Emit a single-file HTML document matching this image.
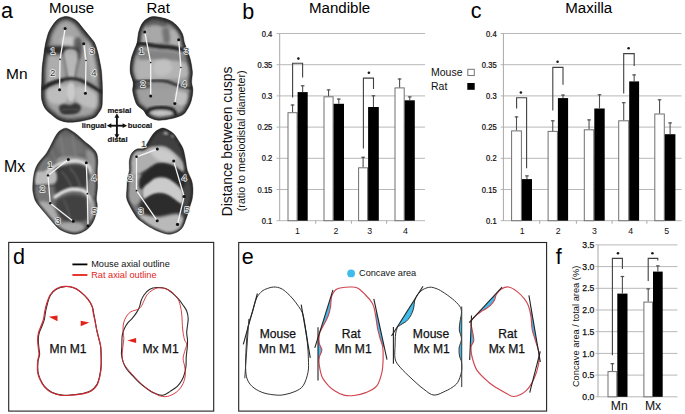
<!DOCTYPE html>
<html><head><meta charset="utf-8"><style>html,body{margin:0;padding:0;background:#fff;}svg{display:block;}</style></head><body>
<svg width="685" height="414" viewBox="0 0 685 414" font-family='"Liberation Sans", sans-serif'>
<defs><filter id="b1" x="-20%" y="-20%" width="140%" height="140%"><feGaussianBlur stdDeviation="1"/></filter><filter id="b2" x="-50%" y="-50%" width="200%" height="200%"><feGaussianBlur stdDeviation="1.8"/></filter><filter id="b3" x="-50%" y="-50%" width="200%" height="200%"><feGaussianBlur stdDeviation="3"/></filter></defs>
<rect width="685" height="414" fill="#fff"/>
<text x="1.0" y="18.4" font-size="21.5" text-anchor="start" fill="#000" font-weight="normal" >a</text>
<text x="71.6" y="13.2" font-size="15" text-anchor="middle" fill="#000" font-weight="normal" >Mouse</text>
<text x="158.2" y="12.9" font-size="15" text-anchor="middle" fill="#000" font-weight="normal" >Rat</text>
<text x="6.0" y="79.4" font-size="15.5" text-anchor="start" fill="#000" font-weight="normal" >Mn</text>
<text x="4.0" y="172.0" font-size="15.8" text-anchor="start" fill="#000" font-weight="normal" >Mx</text>
<clipPath id="ca"><path d="M66.5,16.4 C68.6,16.4 70.7,17.3 72.5,18.2 C74.3,19.1 75.4,19.6 77.4,21.6 C79.4,23.6 82.3,27.5 84.6,30.3 C86.9,33.1 89.5,36.1 91.2,38.3 C92.9,40.5 93.7,41.0 94.8,43.3 C95.9,45.6 96.8,48.9 97.7,52.0 C98.6,55.1 99.3,59.2 99.9,62.2 C100.5,65.2 100.9,66.7 101.3,70.0 C101.7,73.3 102.0,77.7 102.2,82.0 C102.4,86.3 102.5,91.8 102.4,96.0 C102.3,100.2 102.5,104.2 101.8,107.0 C101.1,109.8 99.8,111.2 98.5,113.0 C97.2,114.8 96.8,116.5 94.0,117.8 C91.2,119.1 86.3,120.2 82.0,121.0 C77.7,121.8 72.0,122.5 68.0,122.3 C64.0,122.0 60.8,120.8 58.0,119.5 C55.2,118.2 53.5,116.3 51.4,114.6 C49.3,112.8 47.1,111.3 45.5,109.0 C43.9,106.7 42.7,103.8 42.0,101.0 C41.3,98.2 41.4,95.5 41.4,92.0 C41.4,88.5 41.7,84.0 41.8,80.0 C41.9,76.0 41.8,71.8 42.1,68.0 C42.4,64.2 43.0,60.8 43.5,57.0 C44.0,53.2 44.5,48.8 45.2,45.0 C46.0,41.2 47.0,37.0 48.0,34.0 C49.0,31.0 50.2,29.1 51.5,27.0 C52.8,24.9 54.1,23.0 55.5,21.5 C56.9,20.0 58.2,18.9 60.0,18.0 C61.8,17.1 64.4,16.4 66.5,16.4Z"/></clipPath>
<linearGradient id="ga" x1="0" y1="0" x2="0" y2="1"><stop offset="0" stop-color="#979797"/><stop offset="1" stop-color="#a2a2a2"/></linearGradient>
<g clip-path="url(#ca)">
<path d="M66.5,16.4 C68.6,16.4 70.7,17.3 72.5,18.2 C74.3,19.1 75.4,19.6 77.4,21.6 C79.4,23.6 82.3,27.5 84.6,30.3 C86.9,33.1 89.5,36.1 91.2,38.3 C92.9,40.5 93.7,41.0 94.8,43.3 C95.9,45.6 96.8,48.9 97.7,52.0 C98.6,55.1 99.3,59.2 99.9,62.2 C100.5,65.2 100.9,66.7 101.3,70.0 C101.7,73.3 102.0,77.7 102.2,82.0 C102.4,86.3 102.5,91.8 102.4,96.0 C102.3,100.2 102.5,104.2 101.8,107.0 C101.1,109.8 99.8,111.2 98.5,113.0 C97.2,114.8 96.8,116.5 94.0,117.8 C91.2,119.1 86.3,120.2 82.0,121.0 C77.7,121.8 72.0,122.5 68.0,122.3 C64.0,122.0 60.8,120.8 58.0,119.5 C55.2,118.2 53.5,116.3 51.4,114.6 C49.3,112.8 47.1,111.3 45.5,109.0 C43.9,106.7 42.7,103.8 42.0,101.0 C41.3,98.2 41.4,95.5 41.4,92.0 C41.4,88.5 41.7,84.0 41.8,80.0 C41.9,76.0 41.8,71.8 42.1,68.0 C42.4,64.2 43.0,60.8 43.5,57.0 C44.0,53.2 44.5,48.8 45.2,45.0 C46.0,41.2 47.0,37.0 48.0,34.0 C49.0,31.0 50.2,29.1 51.5,27.0 C52.8,24.9 54.1,23.0 55.5,21.5 C56.9,20.0 58.2,18.9 60.0,18.0 C61.8,17.1 64.4,16.4 66.5,16.4Z" fill="url(#ga)"/>
<path d="M55.0,24.0 C57.7,21.3 62.5,20.0 66.0,20.0 C69.5,20.0 73.7,21.7 76.0,24.0 C78.3,26.3 79.7,30.7 80.0,34.0 C80.3,37.3 80.0,42.0 78.0,44.0 C76.0,46.0 71.7,46.0 68.0,46.0 C64.3,46.0 59.0,45.7 56.0,44.0 C53.0,42.3 50.2,39.3 50.0,36.0 C49.8,32.7 52.3,26.7 55.0,24.0Z" fill="#a6a6a6" fill-opacity="0.9" filter="url(#b2)"/>
<path d="M62.0,38.0 C63.3,36.3 69.3,36.3 72.0,37.0 C74.7,37.7 77.7,40.3 78.0,42.0 C78.3,43.7 76.3,46.2 74.0,47.0 C71.7,47.8 66.0,48.5 64.0,47.0 C62.0,45.5 60.7,39.7 62.0,38.0Z" fill="#cacaca" fill-opacity="0.9" filter="url(#b2)"/>
<path d="M45.0,47.0 C47.2,45.7 55.5,46.0 60.0,46.0 C64.5,46.0 68.8,46.3 72.0,47.0 C75.2,47.7 78.3,48.8 79.0,50.0 C79.7,51.2 78.8,53.3 76.0,54.0 C73.2,54.7 66.8,54.0 62.0,54.0 C57.2,54.0 49.8,55.2 47.0,54.0 C44.2,52.8 42.8,48.3 45.0,47.0Z" fill="#262626" fill-opacity="0.9" filter="url(#b2)"/>
<path d="M74.0,40.0 C74.8,37.0 78.7,36.7 80.0,38.0 C81.3,39.3 82.0,44.7 82.0,48.0 C82.0,51.3 81.2,56.7 80.0,58.0 C78.8,59.3 76.0,59.0 75.0,56.0 C74.0,53.0 73.2,43.0 74.0,40.0Z" fill="#3a3a3a" fill-opacity="0.7" filter="url(#b2)"/>
<path d="M84.5,46.0 C84.6,47.0 84.8,50.0 85.0,52.0 C85.2,54.0 85.4,57.0 85.5,58.0" fill="none" stroke="#e0e0e0" stroke-opacity="0.8" stroke-width="2.5" stroke-linecap="round" filter="url(#b1)"/>
<path d="M87.0,38.0 C87.8,34.8 91.3,40.0 93.0,43.0 C94.7,46.0 95.8,51.2 97.0,56.0 C98.2,60.8 100.7,68.0 100.0,72.0 C99.3,76.0 95.0,81.7 93.0,80.0 C91.0,78.3 89.0,69.0 88.0,62.0 C87.0,55.0 86.2,41.2 87.0,38.0Z" fill="#b6b6b6" fill-opacity="0.85" filter="url(#b2)"/>
<path d="M64.0,52.0 C65.5,47.8 75.3,47.8 77.0,52.0 C78.7,56.2 75.5,72.8 74.0,77.0 C72.5,81.2 69.7,81.2 68.0,77.0 C66.3,72.8 62.5,56.2 64.0,52.0Z" fill="#bababa" fill-opacity="0.9" filter="url(#b1)"/>
<path d="M63.0,54.0 C63.4,56.0 64.8,62.0 65.5,66.0 C66.2,70.0 67.2,76.0 67.5,78.0" fill="none" stroke="#404040" stroke-opacity="0.55" stroke-width="1.6" stroke-linecap="round" filter="url(#b1)"/>
<path d="M80.0,56.0 C79.5,57.8 77.8,63.3 77.0,67.0 C76.2,70.7 75.3,76.2 75.0,78.0" fill="none" stroke="#404040" stroke-opacity="0.55" stroke-width="1.6" stroke-linecap="round" filter="url(#b1)"/>
<path d="M45.0,58.0 C47.3,55.8 55.3,55.7 58.0,57.0 C60.7,58.3 60.7,62.5 61.0,66.0 C61.3,69.5 62.2,75.3 60.0,78.0 C57.8,80.7 50.7,83.3 48.0,82.0 C45.3,80.7 44.5,74.0 44.0,70.0 C43.5,66.0 42.7,60.2 45.0,58.0Z" fill="#b2b2b2" fill-opacity="0.8" filter="url(#b2)"/>
<path d="M42.5,89.0 C43.8,88.2 47.1,85.4 50.0,84.0 C52.9,82.6 56.7,81.4 60.0,80.5 C63.3,79.6 66.7,78.6 70.0,78.5 C73.3,78.4 76.7,78.9 80.0,80.0 C83.3,81.1 86.4,83.0 90.0,85.0 C93.6,87.0 99.6,90.8 101.5,92.0" fill="none" stroke="#1e1e1e" stroke-opacity="0.95" stroke-width="3.2" stroke-linecap="round" filter="url(#b1)"/>
<path d="M43.0,88.0 C44.5,87.2 48.8,84.8 52.0,83.5 C55.2,82.2 60.3,81.0 62.0,80.5" fill="none" stroke="#262626" stroke-opacity="0.8" stroke-width="3.0" stroke-linecap="round" filter="url(#b1)"/>
<path d="M47.0,91.0 C49.0,88.7 56.5,86.7 60.0,86.0 C63.5,85.3 67.0,84.3 68.0,87.0 C69.0,89.7 68.0,99.2 66.0,102.0 C64.0,104.8 59.0,104.3 56.0,104.0 C53.0,103.7 49.5,102.2 48.0,100.0 C46.5,97.8 45.0,93.3 47.0,91.0Z" fill="#c2c2c2" fill-opacity="0.85" filter="url(#b2)"/>
<path d="M76.0,87.0 C78.0,85.2 84.3,87.3 88.0,89.0 C91.7,90.7 96.7,93.8 98.0,97.0 C99.3,100.2 98.3,106.5 96.0,108.0 C93.7,109.5 87.3,107.3 84.0,106.0 C80.7,104.7 77.3,103.2 76.0,100.0 C74.7,96.8 74.0,88.8 76.0,87.0Z" fill="#c2c2c2" fill-opacity="0.85" filter="url(#b2)"/>
<path d="M68.0,84.0 C69.2,82.0 72.8,82.0 74.0,84.0 C75.2,86.0 75.5,93.0 75.0,96.0 C74.5,99.0 72.3,102.0 71.0,102.0 C69.7,102.0 67.5,99.0 67.0,96.0 C66.5,93.0 66.8,86.0 68.0,84.0Z" fill="#cfcfcf" fill-opacity="0.9" filter="url(#b1)"/>
<path d="M59.0,107.0 C59.3,105.3 62.2,104.3 64.0,104.0 C65.8,103.7 68.0,105.2 70.0,105.0 C72.0,104.8 74.2,102.7 76.0,103.0 C77.8,103.3 80.7,105.3 81.0,107.0 C81.3,108.7 79.8,111.7 78.0,113.0 C76.2,114.3 72.7,114.8 70.0,115.0 C67.3,115.2 63.8,115.3 62.0,114.0 C60.2,112.7 58.7,108.7 59.0,107.0Z" fill="#2e2e2e" fill-opacity="0.9" filter="url(#b1)"/>
<path d="M62.0,110.0 C63.3,109.8 67.3,109.0 70.0,109.0 C72.7,109.0 76.7,109.8 78.0,110.0" fill="none" stroke="#6a6a6a" stroke-opacity="0.6" stroke-width="1.2" stroke-linecap="round" filter="url(#b1)"/>
<path d="M58.0,116.0 C59.3,115.0 66.0,115.0 70.0,115.0 C74.0,115.0 80.3,115.0 82.0,116.0 C83.7,117.0 83.3,120.2 80.0,121.0 C76.7,121.8 65.7,121.8 62.0,121.0 C58.3,120.2 56.7,117.0 58.0,116.0Z" fill="#9a9a9a" fill-opacity="0.7" filter="url(#b1)"/>
<path d="M66.5,16.4 C68.6,16.4 70.7,17.3 72.5,18.2 C74.3,19.1 75.4,19.6 77.4,21.6 C79.4,23.6 82.3,27.5 84.6,30.3 C86.9,33.1 89.5,36.1 91.2,38.3 C92.9,40.5 93.7,41.0 94.8,43.3 C95.9,45.6 96.8,48.9 97.7,52.0 C98.6,55.1 99.3,59.2 99.9,62.2 C100.5,65.2 100.9,66.7 101.3,70.0 C101.7,73.3 102.0,77.7 102.2,82.0 C102.4,86.3 102.5,91.8 102.4,96.0 C102.3,100.2 102.5,104.2 101.8,107.0 C101.1,109.8 99.8,111.2 98.5,113.0 C97.2,114.8 96.8,116.5 94.0,117.8 C91.2,119.1 86.3,120.2 82.0,121.0 C77.7,121.8 72.0,122.5 68.0,122.3 C64.0,122.0 60.8,120.8 58.0,119.5 C55.2,118.2 53.5,116.3 51.4,114.6 C49.3,112.8 47.1,111.3 45.5,109.0 C43.9,106.7 42.7,103.8 42.0,101.0 C41.3,98.2 41.4,95.5 41.4,92.0 C41.4,88.5 41.7,84.0 41.8,80.0 C41.9,76.0 41.8,71.8 42.1,68.0 C42.4,64.2 43.0,60.8 43.5,57.0 C44.0,53.2 44.5,48.8 45.2,45.0 C46.0,41.2 47.0,37.0 48.0,34.0 C49.0,31.0 50.2,29.1 51.5,27.0 C52.8,24.9 54.1,23.0 55.5,21.5 C56.9,20.0 58.2,18.9 60.0,18.0 C61.8,17.1 64.4,16.4 66.5,16.4Z" fill="none" stroke="#303030" stroke-opacity="0.55" stroke-width="9" filter="url(#b2)"/>
<path d="M66.5,16.4 C68.6,16.4 70.7,17.3 72.5,18.2 C74.3,19.1 75.4,19.6 77.4,21.6 C79.4,23.6 82.3,27.5 84.6,30.3 C86.9,33.1 89.5,36.1 91.2,38.3 C92.9,40.5 93.7,41.0 94.8,43.3 C95.9,45.6 96.8,48.9 97.7,52.0 C98.6,55.1 99.3,59.2 99.9,62.2 C100.5,65.2 100.9,66.7 101.3,70.0 C101.7,73.3 102.0,77.7 102.2,82.0 C102.4,86.3 102.5,91.8 102.4,96.0 C102.3,100.2 102.5,104.2 101.8,107.0 C101.1,109.8 99.8,111.2 98.5,113.0 C97.2,114.8 96.8,116.5 94.0,117.8 C91.2,119.1 86.3,120.2 82.0,121.0 C77.7,121.8 72.0,122.5 68.0,122.3 C64.0,122.0 60.8,120.8 58.0,119.5 C55.2,118.2 53.5,116.3 51.4,114.6 C49.3,112.8 47.1,111.3 45.5,109.0 C43.9,106.7 42.7,103.8 42.0,101.0 C41.3,98.2 41.4,95.5 41.4,92.0 C41.4,88.5 41.7,84.0 41.8,80.0 C41.9,76.0 41.8,71.8 42.1,68.0 C42.4,64.2 43.0,60.8 43.5,57.0 C44.0,53.2 44.5,48.8 45.2,45.0 C46.0,41.2 47.0,37.0 48.0,34.0 C49.0,31.0 50.2,29.1 51.5,27.0 C52.8,24.9 54.1,23.0 55.5,21.5 C56.9,20.0 58.2,18.9 60.0,18.0 C61.8,17.1 64.4,16.4 66.5,16.4Z" fill="none" stroke="#1c1c1c" stroke-opacity="0.85" stroke-width="3.6" filter="url(#b1)"/>
</g>
<path d="M66.5,16.4 C68.6,16.4 70.7,17.3 72.5,18.2 C74.3,19.1 75.4,19.6 77.4,21.6 C79.4,23.6 82.3,27.5 84.6,30.3 C86.9,33.1 89.5,36.1 91.2,38.3 C92.9,40.5 93.7,41.0 94.8,43.3 C95.9,45.6 96.8,48.9 97.7,52.0 C98.6,55.1 99.3,59.2 99.9,62.2 C100.5,65.2 100.9,66.7 101.3,70.0 C101.7,73.3 102.0,77.7 102.2,82.0 C102.4,86.3 102.5,91.8 102.4,96.0 C102.3,100.2 102.5,104.2 101.8,107.0 C101.1,109.8 99.8,111.2 98.5,113.0 C97.2,114.8 96.8,116.5 94.0,117.8 C91.2,119.1 86.3,120.2 82.0,121.0 C77.7,121.8 72.0,122.5 68.0,122.3 C64.0,122.0 60.8,120.8 58.0,119.5 C55.2,118.2 53.5,116.3 51.4,114.6 C49.3,112.8 47.1,111.3 45.5,109.0 C43.9,106.7 42.7,103.8 42.0,101.0 C41.3,98.2 41.4,95.5 41.4,92.0 C41.4,88.5 41.7,84.0 41.8,80.0 C41.9,76.0 41.8,71.8 42.1,68.0 C42.4,64.2 43.0,60.8 43.5,57.0 C44.0,53.2 44.5,48.8 45.2,45.0 C46.0,41.2 47.0,37.0 48.0,34.0 C49.0,31.0 50.2,29.1 51.5,27.0 C52.8,24.9 54.1,23.0 55.5,21.5 C56.9,20.0 58.2,18.9 60.0,18.0 C61.8,17.1 64.4,16.4 66.5,16.4Z" fill="none" stroke="#2a2a2a" stroke-width="0.6" stroke-opacity="0.7"/>
<polyline points="65.1,28.6 60,59.4 59.6,89.8" fill="none" stroke="#f4f4f4" stroke-width="1.3" stroke-linejoin="round"/>
<polyline points="83.7,43.8 86,60.5 85.4,93.3" fill="none" stroke="#f4f4f4" stroke-width="1.3" stroke-linejoin="round"/>
<circle cx="65.1" cy="28.6" r="1.5" fill="#111"/>
<circle cx="83.7" cy="43.8" r="1.5" fill="#111"/>
<circle cx="60" cy="59.4" r="0.8" fill="#111"/>
<circle cx="86" cy="60.5" r="0.8" fill="#111"/>
<circle cx="59.6" cy="89.8" r="1.5" fill="#111"/>
<circle cx="85.4" cy="93.3" r="1.5" fill="#111"/>
<text x="53" y="54.4" font-size="9.6" text-anchor="middle" fill="#3a3a3a" stroke="#ececec" stroke-width="1.5" paint-order="stroke" stroke-linejoin="round">1</text>
<text x="92" y="54.4" font-size="9.6" text-anchor="middle" fill="#3a3a3a" stroke="#ececec" stroke-width="1.5" paint-order="stroke" stroke-linejoin="round">3</text>
<text x="52.7" y="76.2" font-size="9.6" text-anchor="middle" fill="#3a3a3a" stroke="#ececec" stroke-width="1.5" paint-order="stroke" stroke-linejoin="round">2</text>
<text x="94" y="76.2" font-size="9.6" text-anchor="middle" fill="#3a3a3a" stroke="#ececec" stroke-width="1.5" paint-order="stroke" stroke-linejoin="round">4</text>
<clipPath id="cb"><path d="M153.5,16.6 C156.1,16.5 160.1,17.3 163.0,18.0 C165.9,18.7 168.6,19.6 171.0,21.0 C173.4,22.4 175.7,24.2 177.6,26.4 C179.5,28.6 181.3,31.2 182.5,34.0 C183.7,36.8 183.6,40.0 184.5,43.0 C185.4,46.0 187.0,49.0 188.0,52.0 C189.0,55.0 190.0,57.7 190.7,61.0 C191.4,64.3 192.2,68.5 192.4,72.0 C192.6,75.5 191.5,78.9 191.6,82.0 C191.7,85.1 193.0,87.3 192.9,90.5 C192.8,93.7 192.1,97.9 191.2,101.0 C190.3,104.1 188.9,106.7 187.5,109.0 C186.1,111.3 185.6,113.0 183.0,114.6 C180.4,116.2 176.2,117.6 172.0,118.5 C167.8,119.4 162.0,120.5 158.0,120.2 C154.0,119.9 150.4,118.1 148.0,116.5 C145.6,114.9 145.3,112.3 143.6,110.5 C141.8,108.7 138.9,107.2 137.5,105.5 C136.1,103.8 135.7,102.4 134.9,100.0 C134.1,97.6 133.0,93.9 132.7,91.0 C132.4,88.1 133.6,85.7 133.2,82.5 C132.8,79.3 130.6,75.8 130.2,72.0 C129.8,68.2 130.4,63.6 131.0,60.0 C131.6,56.4 133.0,53.3 134.0,50.5 C135.0,47.7 136.2,46.1 137.0,43.0 C137.8,39.9 137.8,35.3 138.7,32.0 C139.6,28.7 141.0,25.2 142.5,23.0 C144.0,20.8 145.7,19.6 147.5,18.5 C149.3,17.4 150.9,16.7 153.5,16.6Z"/></clipPath>
<linearGradient id="gb" x1="0" y1="0" x2="0" y2="1"><stop offset="0" stop-color="#909090"/><stop offset="1" stop-color="#9e9e9e"/></linearGradient>
<g clip-path="url(#cb)">
<path d="M153.5,16.6 C156.1,16.5 160.1,17.3 163.0,18.0 C165.9,18.7 168.6,19.6 171.0,21.0 C173.4,22.4 175.7,24.2 177.6,26.4 C179.5,28.6 181.3,31.2 182.5,34.0 C183.7,36.8 183.6,40.0 184.5,43.0 C185.4,46.0 187.0,49.0 188.0,52.0 C189.0,55.0 190.0,57.7 190.7,61.0 C191.4,64.3 192.2,68.5 192.4,72.0 C192.6,75.5 191.5,78.9 191.6,82.0 C191.7,85.1 193.0,87.3 192.9,90.5 C192.8,93.7 192.1,97.9 191.2,101.0 C190.3,104.1 188.9,106.7 187.5,109.0 C186.1,111.3 185.6,113.0 183.0,114.6 C180.4,116.2 176.2,117.6 172.0,118.5 C167.8,119.4 162.0,120.5 158.0,120.2 C154.0,119.9 150.4,118.1 148.0,116.5 C145.6,114.9 145.3,112.3 143.6,110.5 C141.8,108.7 138.9,107.2 137.5,105.5 C136.1,103.8 135.7,102.4 134.9,100.0 C134.1,97.6 133.0,93.9 132.7,91.0 C132.4,88.1 133.6,85.7 133.2,82.5 C132.8,79.3 130.6,75.8 130.2,72.0 C129.8,68.2 130.4,63.6 131.0,60.0 C131.6,56.4 133.0,53.3 134.0,50.5 C135.0,47.7 136.2,46.1 137.0,43.0 C137.8,39.9 137.8,35.3 138.7,32.0 C139.6,28.7 141.0,25.2 142.5,23.0 C144.0,20.8 145.7,19.6 147.5,18.5 C149.3,17.4 150.9,16.7 153.5,16.6Z" fill="url(#gb)"/>
<path d="M146.0,19.0 C147.7,17.6 154.3,17.3 158.0,17.5 C161.7,17.7 166.7,18.6 168.0,20.0 C169.3,21.4 168.0,24.8 166.0,26.0 C164.0,27.2 159.0,27.0 156.0,27.0 C153.0,27.0 149.7,27.3 148.0,26.0 C146.3,24.7 144.3,20.4 146.0,19.0Z" fill="#555555" fill-opacity="0.8" filter="url(#b2)"/>
<path d="M139.0,28.0 C140.0,25.8 144.3,26.0 146.0,27.0 C147.7,28.0 149.0,31.5 149.0,34.0 C149.0,36.5 147.5,41.0 146.0,42.0 C144.5,43.0 141.2,42.3 140.0,40.0 C138.8,37.7 138.0,30.2 139.0,28.0Z" fill="#b0b0b0" fill-opacity="0.85" filter="url(#b1)"/>
<path d="M149.0,27.0 C150.7,24.3 157.3,25.0 160.0,26.0 C162.7,27.0 164.7,30.3 165.0,33.0 C165.3,35.7 164.5,40.5 162.0,42.0 C159.5,43.5 152.2,44.5 150.0,42.0 C147.8,39.5 147.3,29.7 149.0,27.0Z" fill="#ababab" fill-opacity="0.85" filter="url(#b2)"/>
<path d="M169.0,31.0 C170.2,28.5 175.7,29.2 178.0,30.0 C180.3,30.8 182.3,33.5 183.0,36.0 C183.7,38.5 184.0,43.5 182.0,45.0 C180.0,46.5 173.2,47.3 171.0,45.0 C168.8,42.7 167.8,33.5 169.0,31.0Z" fill="#b4b4b4" fill-opacity="0.85" filter="url(#b2)"/>
<path d="M162.0,30.0 C162.5,27.7 166.7,27.3 168.0,29.0 C169.3,30.7 170.5,37.7 170.0,40.0 C169.5,42.3 166.3,44.7 165.0,43.0 C163.7,41.3 161.5,32.3 162.0,30.0Z" fill="#5a5a5a" fill-opacity="0.6" filter="url(#b2)"/>
<path d="M131.0,45.0 C132.5,44.8 136.8,43.5 140.0,43.5 C143.2,43.5 146.7,44.5 150.0,45.0 C153.3,45.5 156.3,46.1 160.0,46.5 C163.7,46.9 168.3,47.0 172.0,47.5 C175.7,48.0 179.0,48.9 182.0,49.5 C185.0,50.1 188.7,50.8 190.0,51.0" fill="none" stroke="#1c1c1c" stroke-opacity="0.95" stroke-width="3.8" stroke-linecap="round" filter="url(#b1)"/>
<path d="M132.0,52.0 C134.7,50.2 144.0,51.0 150.0,51.0 C156.0,51.0 161.7,51.2 168.0,52.0 C174.3,52.8 184.7,53.7 188.0,56.0 C191.3,58.3 191.0,65.0 188.0,66.0 C185.0,67.0 176.3,63.0 170.0,62.0 C163.7,61.0 156.0,60.0 150.0,60.0 C144.0,60.0 137.0,63.3 134.0,62.0 C131.0,60.7 129.3,53.8 132.0,52.0Z" fill="#7a7a7a" fill-opacity="0.7" filter="url(#b2)"/>
<path d="M134.0,62.0 C136.8,59.0 144.3,60.3 150.0,60.0 C155.7,59.7 161.7,59.3 168.0,60.0 C174.3,60.7 184.5,61.3 188.0,64.0 C191.5,66.7 192.0,73.5 189.0,76.0 C186.0,78.5 176.5,78.5 170.0,79.0 C163.5,79.5 156.2,79.2 150.0,79.0 C143.8,78.8 135.7,80.8 133.0,78.0 C130.3,75.2 131.2,65.0 134.0,62.0Z" fill="#b6b6b6" fill-opacity="0.9" filter="url(#b2)"/>
<path d="M155.0,62.0 C157.3,60.0 165.2,58.7 168.0,60.0 C170.8,61.3 173.0,67.3 172.0,70.0 C171.0,72.7 165.0,75.7 162.0,76.0 C159.0,76.3 155.2,74.3 154.0,72.0 C152.8,69.7 152.7,64.0 155.0,62.0Z" fill="#c4c4c4" fill-opacity="0.8" filter="url(#b2)"/>
<path d="M131.0,58.0 C132.0,54.7 136.5,53.3 138.0,56.0 C139.5,58.7 141.0,70.7 140.0,74.0 C139.0,77.3 133.5,78.7 132.0,76.0 C130.5,73.3 130.0,61.3 131.0,58.0Z" fill="#b0b0b0" fill-opacity="0.8" filter="url(#b2)"/>
<path d="M131.5,82.5 C133.9,82.2 140.4,81.2 146.0,81.0 C151.6,80.8 159.8,80.3 165.0,81.0 C170.2,81.7 172.7,83.8 177.0,85.0 C181.3,86.2 188.7,87.8 191.0,88.4" fill="none" stroke="#1a1a1a" stroke-opacity="0.95" stroke-width="2.4" stroke-linecap="round" filter="url(#b1)"/>
<path d="M134.0,84.0 C136.0,82.8 145.3,82.3 148.0,83.0 C150.7,83.7 152.0,86.8 150.0,88.0 C148.0,89.2 138.7,90.7 136.0,90.0 C133.3,89.3 132.0,85.2 134.0,84.0Z" fill="#3c3c3c" fill-opacity="0.7" filter="url(#b1)"/>
<path d="M137.0,90.0 C139.0,88.2 144.5,89.2 150.0,89.0 C155.5,88.8 163.7,88.3 170.0,89.0 C176.3,89.7 185.3,90.5 188.0,93.0 C190.7,95.5 189.0,101.8 186.0,104.0 C183.0,106.2 176.0,105.7 170.0,106.0 C164.0,106.3 155.3,107.0 150.0,106.0 C144.7,105.0 140.2,102.7 138.0,100.0 C135.8,97.3 135.0,91.8 137.0,90.0Z" fill="#a0a0a0" fill-opacity="0.85" filter="url(#b2)"/>
<path d="M176.0,92.0 C177.7,90.3 185.2,92.0 187.0,94.0 C188.8,96.0 188.7,102.3 187.0,104.0 C185.3,105.7 178.8,106.0 177.0,104.0 C175.2,102.0 174.3,93.7 176.0,92.0Z" fill="#c4c4c4" fill-opacity="0.85" filter="url(#b1)"/>
<path d="M144.5,115.0 C145.5,114.0 147.5,110.2 150.5,109.0 C153.5,107.8 158.7,107.4 162.4,107.5 C166.1,107.6 170.6,108.3 172.9,109.6 C175.2,110.8 175.5,114.1 176.0,115.0" fill="none" stroke="#151515" stroke-opacity="1" stroke-width="3.2" stroke-linecap="round" filter="url(#b1)"/>
<path d="M150.0,113.0 C151.0,111.7 156.3,111.0 160.0,111.0 C163.7,111.0 170.7,111.7 172.0,113.0 C173.3,114.3 171.0,118.0 168.0,119.0 C165.0,120.0 157.0,120.0 154.0,119.0 C151.0,118.0 149.0,114.3 150.0,113.0Z" fill="#cccccc" fill-opacity="0.9" filter="url(#b1)"/>
<path d="M153.5,16.6 C156.1,16.5 160.1,17.3 163.0,18.0 C165.9,18.7 168.6,19.6 171.0,21.0 C173.4,22.4 175.7,24.2 177.6,26.4 C179.5,28.6 181.3,31.2 182.5,34.0 C183.7,36.8 183.6,40.0 184.5,43.0 C185.4,46.0 187.0,49.0 188.0,52.0 C189.0,55.0 190.0,57.7 190.7,61.0 C191.4,64.3 192.2,68.5 192.4,72.0 C192.6,75.5 191.5,78.9 191.6,82.0 C191.7,85.1 193.0,87.3 192.9,90.5 C192.8,93.7 192.1,97.9 191.2,101.0 C190.3,104.1 188.9,106.7 187.5,109.0 C186.1,111.3 185.6,113.0 183.0,114.6 C180.4,116.2 176.2,117.6 172.0,118.5 C167.8,119.4 162.0,120.5 158.0,120.2 C154.0,119.9 150.4,118.1 148.0,116.5 C145.6,114.9 145.3,112.3 143.6,110.5 C141.8,108.7 138.9,107.2 137.5,105.5 C136.1,103.8 135.7,102.4 134.9,100.0 C134.1,97.6 133.0,93.9 132.7,91.0 C132.4,88.1 133.6,85.7 133.2,82.5 C132.8,79.3 130.6,75.8 130.2,72.0 C129.8,68.2 130.4,63.6 131.0,60.0 C131.6,56.4 133.0,53.3 134.0,50.5 C135.0,47.7 136.2,46.1 137.0,43.0 C137.8,39.9 137.8,35.3 138.7,32.0 C139.6,28.7 141.0,25.2 142.5,23.0 C144.0,20.8 145.7,19.6 147.5,18.5 C149.3,17.4 150.9,16.7 153.5,16.6Z" fill="none" stroke="#303030" stroke-opacity="0.55" stroke-width="8" filter="url(#b2)"/>
<path d="M153.5,16.6 C156.1,16.5 160.1,17.3 163.0,18.0 C165.9,18.7 168.6,19.6 171.0,21.0 C173.4,22.4 175.7,24.2 177.6,26.4 C179.5,28.6 181.3,31.2 182.5,34.0 C183.7,36.8 183.6,40.0 184.5,43.0 C185.4,46.0 187.0,49.0 188.0,52.0 C189.0,55.0 190.0,57.7 190.7,61.0 C191.4,64.3 192.2,68.5 192.4,72.0 C192.6,75.5 191.5,78.9 191.6,82.0 C191.7,85.1 193.0,87.3 192.9,90.5 C192.8,93.7 192.1,97.9 191.2,101.0 C190.3,104.1 188.9,106.7 187.5,109.0 C186.1,111.3 185.6,113.0 183.0,114.6 C180.4,116.2 176.2,117.6 172.0,118.5 C167.8,119.4 162.0,120.5 158.0,120.2 C154.0,119.9 150.4,118.1 148.0,116.5 C145.6,114.9 145.3,112.3 143.6,110.5 C141.8,108.7 138.9,107.2 137.5,105.5 C136.1,103.8 135.7,102.4 134.9,100.0 C134.1,97.6 133.0,93.9 132.7,91.0 C132.4,88.1 133.6,85.7 133.2,82.5 C132.8,79.3 130.6,75.8 130.2,72.0 C129.8,68.2 130.4,63.6 131.0,60.0 C131.6,56.4 133.0,53.3 134.0,50.5 C135.0,47.7 136.2,46.1 137.0,43.0 C137.8,39.9 137.8,35.3 138.7,32.0 C139.6,28.7 141.0,25.2 142.5,23.0 C144.0,20.8 145.7,19.6 147.5,18.5 C149.3,17.4 150.9,16.7 153.5,16.6Z" fill="none" stroke="#1c1c1c" stroke-opacity="0.85" stroke-width="4" filter="url(#b1)"/>
</g>
<path d="M153.5,16.6 C156.1,16.5 160.1,17.3 163.0,18.0 C165.9,18.7 168.6,19.6 171.0,21.0 C173.4,22.4 175.7,24.2 177.6,26.4 C179.5,28.6 181.3,31.2 182.5,34.0 C183.7,36.8 183.6,40.0 184.5,43.0 C185.4,46.0 187.0,49.0 188.0,52.0 C189.0,55.0 190.0,57.7 190.7,61.0 C191.4,64.3 192.2,68.5 192.4,72.0 C192.6,75.5 191.5,78.9 191.6,82.0 C191.7,85.1 193.0,87.3 192.9,90.5 C192.8,93.7 192.1,97.9 191.2,101.0 C190.3,104.1 188.9,106.7 187.5,109.0 C186.1,111.3 185.6,113.0 183.0,114.6 C180.4,116.2 176.2,117.6 172.0,118.5 C167.8,119.4 162.0,120.5 158.0,120.2 C154.0,119.9 150.4,118.1 148.0,116.5 C145.6,114.9 145.3,112.3 143.6,110.5 C141.8,108.7 138.9,107.2 137.5,105.5 C136.1,103.8 135.7,102.4 134.9,100.0 C134.1,97.6 133.0,93.9 132.7,91.0 C132.4,88.1 133.6,85.7 133.2,82.5 C132.8,79.3 130.6,75.8 130.2,72.0 C129.8,68.2 130.4,63.6 131.0,60.0 C131.6,56.4 133.0,53.3 134.0,50.5 C135.0,47.7 136.2,46.1 137.0,43.0 C137.8,39.9 137.8,35.3 138.7,32.0 C139.6,28.7 141.0,25.2 142.5,23.0 C144.0,20.8 145.7,19.6 147.5,18.5 C149.3,17.4 150.9,16.7 153.5,16.6Z" fill="none" stroke="#2a2a2a" stroke-width="0.6" stroke-opacity="0.7"/>
<polyline points="144.7,31.9 150.7,62.6 150.7,96" fill="none" stroke="#f4f4f4" stroke-width="1.3" stroke-linejoin="round"/>
<polyline points="178.7,39.8 180.9,67.5 174.8,103.6" fill="none" stroke="#f4f4f4" stroke-width="1.3" stroke-linejoin="round"/>
<circle cx="144.7" cy="31.9" r="1.5" fill="#111"/>
<circle cx="178.7" cy="39.8" r="1.5" fill="#111"/>
<circle cx="150.7" cy="62.6" r="0.8" fill="#111"/>
<circle cx="180.9" cy="67.5" r="0.8" fill="#111"/>
<circle cx="150.7" cy="96" r="1.5" fill="#111"/>
<circle cx="174.8" cy="103.6" r="1.5" fill="#111"/>
<text x="141.4" y="54.4" font-size="9.6" text-anchor="middle" fill="#3a3a3a" stroke="#ececec" stroke-width="1.5" paint-order="stroke" stroke-linejoin="round">1</text>
<text x="186.3" y="54.4" font-size="9.6" text-anchor="middle" fill="#3a3a3a" stroke="#ececec" stroke-width="1.5" paint-order="stroke" stroke-linejoin="round">3</text>
<text x="143" y="87.4" font-size="9.6" text-anchor="middle" fill="#3a3a3a" stroke="#ececec" stroke-width="1.5" paint-order="stroke" stroke-linejoin="round">2</text>
<text x="184" y="87.4" font-size="9.6" text-anchor="middle" fill="#3a3a3a" stroke="#ececec" stroke-width="1.5" paint-order="stroke" stroke-linejoin="round">4</text>
<clipPath id="cc"><path d="M66.6,128.3 C69.0,128.9 72.5,131.2 75.4,133.3 C78.3,135.4 81.4,138.7 84.1,141.0 C86.8,143.3 89.4,145.0 91.5,147.0 C93.6,149.0 95.5,150.7 96.5,153.0 C97.5,155.3 97.7,157.8 97.8,161.0 C97.9,164.2 97.3,167.7 97.3,172.0 C97.2,176.3 97.7,182.5 97.5,187.0 C97.3,191.5 96.4,195.8 96.4,199.0 C96.4,202.2 97.5,203.2 97.3,206.0 C97.1,208.8 96.4,213.0 95.5,216.0 C94.6,219.0 93.5,221.7 92.0,224.0 C90.5,226.3 88.5,228.4 86.3,230.0 C84.1,231.6 81.2,232.8 79.0,233.5 C76.8,234.2 75.5,234.4 73.2,234.2 C70.9,233.9 67.5,233.1 65.0,232.0 C62.5,230.9 60.5,230.2 57.9,227.9 C55.2,225.6 51.8,221.2 49.1,218.0 C46.4,214.8 43.8,211.8 41.5,209.0 C39.2,206.2 36.9,203.7 35.5,201.0 C34.1,198.3 33.7,195.3 33.2,193.0 C32.7,190.7 32.7,189.6 32.7,186.9 C32.8,184.2 33.0,180.1 33.5,177.0 C34.0,173.9 34.5,171.1 35.5,168.5 C36.5,165.9 37.6,164.2 39.5,161.5 C41.4,158.8 44.8,155.7 46.9,152.4 C49.0,149.2 50.8,145.1 52.4,142.0 C54.0,138.9 55.4,136.0 56.8,134.0 C58.2,132.0 59.4,130.9 61.0,130.0 C62.6,129.1 64.2,127.8 66.6,128.3Z"/></clipPath>
<linearGradient id="gc" x1="0" y1="0" x2="0" y2="1"><stop offset="0" stop-color="#646464"/><stop offset="1" stop-color="#707070"/></linearGradient>
<g clip-path="url(#cc)">
<path d="M66.6,128.3 C69.0,128.9 72.5,131.2 75.4,133.3 C78.3,135.4 81.4,138.7 84.1,141.0 C86.8,143.3 89.4,145.0 91.5,147.0 C93.6,149.0 95.5,150.7 96.5,153.0 C97.5,155.3 97.7,157.8 97.8,161.0 C97.9,164.2 97.3,167.7 97.3,172.0 C97.2,176.3 97.7,182.5 97.5,187.0 C97.3,191.5 96.4,195.8 96.4,199.0 C96.4,202.2 97.5,203.2 97.3,206.0 C97.1,208.8 96.4,213.0 95.5,216.0 C94.6,219.0 93.5,221.7 92.0,224.0 C90.5,226.3 88.5,228.4 86.3,230.0 C84.1,231.6 81.2,232.8 79.0,233.5 C76.8,234.2 75.5,234.4 73.2,234.2 C70.9,233.9 67.5,233.1 65.0,232.0 C62.5,230.9 60.5,230.2 57.9,227.9 C55.2,225.6 51.8,221.2 49.1,218.0 C46.4,214.8 43.8,211.8 41.5,209.0 C39.2,206.2 36.9,203.7 35.5,201.0 C34.1,198.3 33.7,195.3 33.2,193.0 C32.7,190.7 32.7,189.6 32.7,186.9 C32.8,184.2 33.0,180.1 33.5,177.0 C34.0,173.9 34.5,171.1 35.5,168.5 C36.5,165.9 37.6,164.2 39.5,161.5 C41.4,158.8 44.8,155.7 46.9,152.4 C49.0,149.2 50.8,145.1 52.4,142.0 C54.0,138.9 55.4,136.0 56.8,134.0 C58.2,132.0 59.4,130.9 61.0,130.0 C62.6,129.1 64.2,127.8 66.6,128.3Z" fill="url(#gc)"/>
<path d="M56.0,140.0 C57.3,137.0 64.0,135.7 68.0,136.0 C72.0,136.3 77.3,139.3 80.0,142.0 C82.7,144.7 85.3,149.7 84.0,152.0 C82.7,154.3 76.0,155.7 72.0,156.0 C68.0,156.3 62.7,156.7 60.0,154.0 C57.3,151.3 54.7,143.0 56.0,140.0Z" fill="#747474" fill-opacity="0.8" filter="url(#b2)"/>
<path d="M60.0,134.0 C60.3,135.8 61.3,141.3 62.0,145.0 C62.7,148.7 63.7,154.2 64.0,156.0" fill="none" stroke="#8a8a8a" stroke-opacity="0.6" stroke-width="1.5" stroke-linecap="round" filter="url(#b1)"/>
<path d="M72.0,134.0 C72.3,136.0 73.3,142.3 74.0,146.0 C74.7,149.7 75.7,154.3 76.0,156.0" fill="none" stroke="#8a8a8a" stroke-opacity="0.6" stroke-width="1.5" stroke-linecap="round" filter="url(#b1)"/>
<path d="M50.0,148.0 C50.7,149.3 53.0,153.7 54.0,156.0 C55.0,158.3 55.7,161.0 56.0,162.0" fill="none" stroke="#8a8a8a" stroke-opacity="0.6" stroke-width="1.5" stroke-linecap="round" filter="url(#b1)"/>
<path d="M86.0,150.0 C87.0,148.2 92.2,151.3 94.0,154.0 C95.8,156.7 96.7,161.7 97.0,166.0 C97.3,170.3 97.2,178.0 96.0,180.0 C94.8,182.0 91.3,180.5 90.0,178.0 C88.7,175.5 88.7,169.7 88.0,165.0 C87.3,160.3 85.0,151.8 86.0,150.0Z" fill="#9a9a9a" fill-opacity="0.85" filter="url(#b2)"/>
<path d="M36.0,166.0 C37.0,163.8 41.3,159.0 44.0,158.0 C46.7,157.0 50.3,158.3 52.0,160.0 C53.7,161.7 55.0,166.2 54.0,168.0 C53.0,169.8 48.7,170.5 46.0,171.0 C43.3,171.5 39.7,171.8 38.0,171.0 C36.3,170.2 35.0,168.2 36.0,166.0Z" fill="#7a7a7a" fill-opacity="0.85" filter="url(#b2)"/>
<path d="M58.0,158.0 C60.0,156.3 65.7,156.0 70.0,156.0 C74.3,156.0 81.0,156.7 84.0,158.0 C87.0,159.3 90.0,163.0 88.0,164.0 C86.0,165.0 77.0,163.7 72.0,164.0 C67.0,164.3 60.3,167.0 58.0,166.0 C55.7,165.0 56.0,159.7 58.0,158.0Z" fill="#a8a8a8" fill-opacity="0.7" filter="url(#b1)"/>
<path d="M47.0,172.0 C48.3,171.1 52.5,167.9 55.0,166.5 C57.5,165.1 59.8,164.3 62.0,163.5 C64.2,162.7 65.5,161.9 68.0,161.5 C70.5,161.1 74.3,160.8 77.0,161.0 C79.7,161.2 82.0,162.0 84.0,163.0 C86.0,164.0 88.0,165.5 89.0,167.0 C90.0,168.5 89.8,171.2 90.0,172.0" fill="none" stroke="#e8e8e8" stroke-opacity="0.95" stroke-width="3.2" stroke-linecap="round" filter="url(#b1)"/>
<path d="M55.0,170.0 C56.5,165.3 61.2,166.8 65.0,166.0 C68.8,165.2 74.2,164.3 78.0,165.0 C81.8,165.7 86.3,166.5 88.0,170.0 C89.7,173.5 89.7,183.2 88.0,186.0 C86.3,188.8 81.7,186.3 78.0,187.0 C74.3,187.7 69.7,188.8 66.0,190.0 C62.3,191.2 57.8,197.3 56.0,194.0 C54.2,190.7 53.5,174.7 55.0,170.0Z" fill="#3a3a3a" fill-opacity="0.95" filter="url(#b2)"/>
<path d="M62.0,172.0 C63.0,173.3 66.3,177.3 68.0,180.0 C69.7,182.7 71.3,186.7 72.0,188.0" fill="none" stroke="#707070" stroke-opacity="0.7" stroke-width="1.4" stroke-linecap="round" filter="url(#b1)"/>
<path d="M70.0,168.0 C71.0,169.3 74.3,173.0 76.0,176.0 C77.7,179.0 79.3,184.3 80.0,186.0" fill="none" stroke="#707070" stroke-opacity="0.7" stroke-width="1.4" stroke-linecap="round" filter="url(#b1)"/>
<path d="M35.0,173.0 C36.7,170.8 41.8,171.5 45.0,171.0 C48.2,170.5 52.0,169.2 54.0,170.0 C56.0,170.8 56.8,173.8 57.0,176.0 C57.2,178.2 57.0,181.7 55.0,183.0 C53.0,184.3 48.3,183.8 45.0,184.0 C41.7,184.2 36.7,185.8 35.0,184.0 C33.3,182.2 33.3,175.2 35.0,173.0Z" fill="#c4c4c4" fill-opacity="0.9" filter="url(#b1)"/>
<path d="M35.0,185.5 C36.7,185.5 41.7,185.4 45.0,185.5 C48.3,185.6 53.3,185.9 55.0,186.0" fill="none" stroke="#3a3a3a" stroke-opacity="0.7" stroke-width="1.5" stroke-linecap="round" filter="url(#b1)"/>
<path d="M34.0,188.0 C35.5,186.3 41.0,187.3 44.0,188.0 C47.0,188.7 50.7,190.0 52.0,192.0 C53.3,194.0 53.3,198.3 52.0,200.0 C50.7,201.7 46.8,202.3 44.0,202.0 C41.2,201.7 36.7,200.3 35.0,198.0 C33.3,195.7 32.5,189.7 34.0,188.0Z" fill="#777777" fill-opacity="0.8" filter="url(#b2)"/>
<path d="M55.0,197.0 C56.2,196.2 59.5,193.8 62.0,192.5 C64.5,191.2 67.3,190.0 70.0,189.5 C72.7,189.0 75.7,189.2 78.0,189.5 C80.3,189.8 82.2,189.9 84.0,191.0 C85.8,192.1 88.0,194.2 89.0,196.0 C90.0,197.8 89.8,201.0 90.0,202.0" fill="none" stroke="#ececec" stroke-opacity="0.95" stroke-width="3.4" stroke-linecap="round" filter="url(#b1)"/>
<path d="M56.0,202.0 C57.3,199.0 62.3,197.2 66.0,196.0 C69.7,194.8 74.3,194.3 78.0,195.0 C81.7,195.7 86.3,196.2 88.0,200.0 C89.7,203.8 89.7,214.3 88.0,218.0 C86.3,221.7 81.7,221.3 78.0,222.0 C74.3,222.7 69.3,223.3 66.0,222.0 C62.7,220.7 59.7,217.3 58.0,214.0 C56.3,210.7 54.7,205.0 56.0,202.0Z" fill="#3e3e3e" fill-opacity="0.95" filter="url(#b2)"/>
<path d="M64.0,200.0 C64.7,201.7 67.0,207.0 68.0,210.0 C69.0,213.0 69.7,216.7 70.0,218.0" fill="none" stroke="#707070" stroke-opacity="0.6" stroke-width="1.4" stroke-linecap="round" filter="url(#b1)"/>
<path d="M38.0,202.0 C39.5,200.5 46.8,201.0 50.0,203.0 C53.2,205.0 55.3,209.8 57.0,214.0 C58.7,218.2 61.2,226.3 60.0,228.0 C58.8,229.7 53.2,226.7 50.0,224.0 C46.8,221.3 43.0,215.7 41.0,212.0 C39.0,208.3 36.5,203.5 38.0,202.0Z" fill="#b2b2b2" fill-opacity="0.9" filter="url(#b2)"/>
<path d="M60.0,224.0 C61.7,222.7 66.3,222.0 70.0,222.0 C73.7,222.0 79.7,222.3 82.0,224.0 C84.3,225.7 86.0,230.3 84.0,232.0 C82.0,233.7 74.0,234.3 70.0,234.0 C66.0,233.7 61.7,231.7 60.0,230.0 C58.3,228.3 58.3,225.3 60.0,224.0Z" fill="#b0b0b0" fill-opacity="0.85" filter="url(#b2)"/>
<path d="M88.0,200.0 C88.8,197.0 93.7,199.7 95.0,202.0 C96.3,204.3 96.8,211.0 96.0,214.0 C95.2,217.0 91.3,222.3 90.0,220.0 C88.7,217.7 87.2,203.0 88.0,200.0Z" fill="#adadad" fill-opacity="0.85" filter="url(#b2)"/>
<path d="M88.0,180.0 C89.2,178.0 94.7,179.3 96.0,182.0 C97.3,184.7 97.2,194.0 96.0,196.0 C94.8,198.0 90.3,196.7 89.0,194.0 C87.7,191.3 86.8,182.0 88.0,180.0Z" fill="#8a8a8a" fill-opacity="0.7" filter="url(#b2)"/>
<path d="M66.6,128.3 C69.0,128.9 72.5,131.2 75.4,133.3 C78.3,135.4 81.4,138.7 84.1,141.0 C86.8,143.3 89.4,145.0 91.5,147.0 C93.6,149.0 95.5,150.7 96.5,153.0 C97.5,155.3 97.7,157.8 97.8,161.0 C97.9,164.2 97.3,167.7 97.3,172.0 C97.2,176.3 97.7,182.5 97.5,187.0 C97.3,191.5 96.4,195.8 96.4,199.0 C96.4,202.2 97.5,203.2 97.3,206.0 C97.1,208.8 96.4,213.0 95.5,216.0 C94.6,219.0 93.5,221.7 92.0,224.0 C90.5,226.3 88.5,228.4 86.3,230.0 C84.1,231.6 81.2,232.8 79.0,233.5 C76.8,234.2 75.5,234.4 73.2,234.2 C70.9,233.9 67.5,233.1 65.0,232.0 C62.5,230.9 60.5,230.2 57.9,227.9 C55.2,225.6 51.8,221.2 49.1,218.0 C46.4,214.8 43.8,211.8 41.5,209.0 C39.2,206.2 36.9,203.7 35.5,201.0 C34.1,198.3 33.7,195.3 33.2,193.0 C32.7,190.7 32.7,189.6 32.7,186.9 C32.8,184.2 33.0,180.1 33.5,177.0 C34.0,173.9 34.5,171.1 35.5,168.5 C36.5,165.9 37.6,164.2 39.5,161.5 C41.4,158.8 44.8,155.7 46.9,152.4 C49.0,149.2 50.8,145.1 52.4,142.0 C54.0,138.9 55.4,136.0 56.8,134.0 C58.2,132.0 59.4,130.9 61.0,130.0 C62.6,129.1 64.2,127.8 66.6,128.3Z" fill="none" stroke="#1c1c1c" stroke-opacity="0.85" stroke-width="3.2" filter="url(#b1)"/>
</g>
<path d="M66.6,128.3 C69.0,128.9 72.5,131.2 75.4,133.3 C78.3,135.4 81.4,138.7 84.1,141.0 C86.8,143.3 89.4,145.0 91.5,147.0 C93.6,149.0 95.5,150.7 96.5,153.0 C97.5,155.3 97.7,157.8 97.8,161.0 C97.9,164.2 97.3,167.7 97.3,172.0 C97.2,176.3 97.7,182.5 97.5,187.0 C97.3,191.5 96.4,195.8 96.4,199.0 C96.4,202.2 97.5,203.2 97.3,206.0 C97.1,208.8 96.4,213.0 95.5,216.0 C94.6,219.0 93.5,221.7 92.0,224.0 C90.5,226.3 88.5,228.4 86.3,230.0 C84.1,231.6 81.2,232.8 79.0,233.5 C76.8,234.2 75.5,234.4 73.2,234.2 C70.9,233.9 67.5,233.1 65.0,232.0 C62.5,230.9 60.5,230.2 57.9,227.9 C55.2,225.6 51.8,221.2 49.1,218.0 C46.4,214.8 43.8,211.8 41.5,209.0 C39.2,206.2 36.9,203.7 35.5,201.0 C34.1,198.3 33.7,195.3 33.2,193.0 C32.7,190.7 32.7,189.6 32.7,186.9 C32.8,184.2 33.0,180.1 33.5,177.0 C34.0,173.9 34.5,171.1 35.5,168.5 C36.5,165.9 37.6,164.2 39.5,161.5 C41.4,158.8 44.8,155.7 46.9,152.4 C49.0,149.2 50.8,145.1 52.4,142.0 C54.0,138.9 55.4,136.0 56.8,134.0 C58.2,132.0 59.4,130.9 61.0,130.0 C62.6,129.1 64.2,127.8 66.6,128.3Z" fill="none" stroke="#2a2a2a" stroke-width="0.6" stroke-opacity="0.7"/>
<polyline points="68.3,159.5 48,175.4 50.2,203.3 73.2,221.3" fill="none" stroke="#f4f4f4" stroke-width="1.3" stroke-linejoin="round"/>
<polyline points="86.3,162.8 87.4,193.7 88,225.7" fill="none" stroke="#f4f4f4" stroke-width="1.3" stroke-linejoin="round"/>
<circle cx="68.3" cy="159.5" r="1.5" fill="#111"/>
<circle cx="86.3" cy="162.8" r="1.5" fill="#111"/>
<circle cx="48" cy="175.4" r="1.2" fill="#111"/>
<circle cx="50.2" cy="203.3" r="1.2" fill="#111"/>
<circle cx="73.2" cy="221.3" r="1.5" fill="#111"/>
<circle cx="87.4" cy="193.7" r="0.9" fill="#111"/>
<circle cx="88" cy="225.7" r="1.5" fill="#111"/>
<text x="50.2" y="168.4" font-size="9.6" text-anchor="middle" fill="#3a3a3a" stroke="#ececec" stroke-width="1.5" paint-order="stroke" stroke-linejoin="round">1</text>
<text x="42.5" y="191.9" font-size="9.6" text-anchor="middle" fill="#3a3a3a" stroke="#ececec" stroke-width="1.5" paint-order="stroke" stroke-linejoin="round">2</text>
<text x="57.9" y="224.2" font-size="9.6" text-anchor="middle" fill="#3a3a3a" stroke="#ececec" stroke-width="1.5" paint-order="stroke" stroke-linejoin="round">3</text>
<text x="94" y="180.5" font-size="9.6" text-anchor="middle" fill="#3a3a3a" stroke="#ececec" stroke-width="1.5" paint-order="stroke" stroke-linejoin="round">4</text>
<text x="94.5" y="213.8" font-size="9.6" text-anchor="middle" fill="#3a3a3a" stroke="#ececec" stroke-width="1.5" paint-order="stroke" stroke-linejoin="round">5</text>
<clipPath id="cd"><path d="M164.4,128.3 C166.8,128.9 170.8,131.2 173.2,133.3 C175.6,135.4 177.0,138.4 178.7,141.0 C180.4,143.6 182.0,145.8 183.2,149.0 C184.3,152.2 184.9,156.4 185.6,160.0 C186.3,163.6 186.4,167.2 187.4,170.5 C188.4,173.8 190.6,177.1 191.5,180.0 C192.4,182.9 192.8,185.0 192.9,188.0 C193.1,191.0 192.9,194.9 192.4,197.9 C191.9,200.9 191.0,202.8 190.1,206.0 C189.2,209.2 188.3,213.1 186.8,216.9 C185.3,220.7 184.0,226.1 181.3,229.0 C178.6,231.9 174.0,233.7 170.4,234.2 C166.8,234.7 163.5,233.2 160.0,232.0 C156.5,230.8 152.7,228.8 149.6,227.0 C146.5,225.2 143.7,223.2 141.5,221.5 C139.3,219.8 138.3,219.5 136.4,216.9 C134.5,214.3 131.5,209.2 129.9,206.0 C128.3,202.8 127.1,200.9 126.6,197.9 C126.1,194.9 126.8,191.3 126.9,188.0 C127.1,184.7 127.1,180.9 127.5,178.0 C127.9,175.1 129.1,173.3 129.4,170.5 C129.7,167.7 128.9,163.8 129.3,161.0 C129.7,158.2 130.3,155.5 131.6,153.5 C132.9,151.5 134.9,149.9 137.0,149.0 C139.1,148.1 142.1,149.5 144.0,148.2 C145.9,146.9 146.7,143.8 148.3,141.4 C149.9,139.0 151.8,135.5 153.5,133.5 C155.2,131.5 156.7,130.4 158.5,129.5 C160.3,128.6 162.0,127.7 164.4,128.3Z"/></clipPath>
<linearGradient id="gd" x1="0" y1="0" x2="0" y2="1"><stop offset="0" stop-color="#3e3e3e"/><stop offset="1" stop-color="#4a4a4a"/></linearGradient>
<g clip-path="url(#cd)">
<path d="M164.4,128.3 C166.8,128.9 170.8,131.2 173.2,133.3 C175.6,135.4 177.0,138.4 178.7,141.0 C180.4,143.6 182.0,145.8 183.2,149.0 C184.3,152.2 184.9,156.4 185.6,160.0 C186.3,163.6 186.4,167.2 187.4,170.5 C188.4,173.8 190.6,177.1 191.5,180.0 C192.4,182.9 192.8,185.0 192.9,188.0 C193.1,191.0 192.9,194.9 192.4,197.9 C191.9,200.9 191.0,202.8 190.1,206.0 C189.2,209.2 188.3,213.1 186.8,216.9 C185.3,220.7 184.0,226.1 181.3,229.0 C178.6,231.9 174.0,233.7 170.4,234.2 C166.8,234.7 163.5,233.2 160.0,232.0 C156.5,230.8 152.7,228.8 149.6,227.0 C146.5,225.2 143.7,223.2 141.5,221.5 C139.3,219.8 138.3,219.5 136.4,216.9 C134.5,214.3 131.5,209.2 129.9,206.0 C128.3,202.8 127.1,200.9 126.6,197.9 C126.1,194.9 126.8,191.3 126.9,188.0 C127.1,184.7 127.1,180.9 127.5,178.0 C127.9,175.1 129.1,173.3 129.4,170.5 C129.7,167.7 128.9,163.8 129.3,161.0 C129.7,158.2 130.3,155.5 131.6,153.5 C132.9,151.5 134.9,149.9 137.0,149.0 C139.1,148.1 142.1,149.5 144.0,148.2 C145.9,146.9 146.7,143.8 148.3,141.4 C149.9,139.0 151.8,135.5 153.5,133.5 C155.2,131.5 156.7,130.4 158.5,129.5 C160.3,128.6 162.0,127.7 164.4,128.3Z" fill="url(#gd)"/>
<ellipse cx="166" cy="133" rx="2.5" ry="2" fill="#a8a8a8" fill-opacity="0.9" filter="url(#b1)" transform="rotate(0 166 133)"/>
<ellipse cx="173.5" cy="135.5" rx="2.5" ry="2" fill="#a8a8a8" fill-opacity="0.9" filter="url(#b1)" transform="rotate(0 173.5 135.5)"/>
<ellipse cx="179.5" cy="141" rx="2" ry="2" fill="#909090" fill-opacity="0.9" filter="url(#b1)" transform="rotate(0 179.5 141)"/>
<path d="M128.0,156.0 C129.3,153.0 133.2,151.2 136.0,150.0 C138.8,148.8 142.5,149.5 145.0,149.0 C147.5,148.5 147.7,147.4 151.0,147.0 C154.3,146.6 160.5,145.0 165.0,146.5 C169.5,148.0 174.8,152.9 178.0,156.0 C181.2,159.1 183.3,162.3 184.0,165.0 C184.7,167.7 184.2,172.0 182.0,172.0 C179.8,172.0 175.0,166.5 171.0,165.0 C167.0,163.5 162.5,162.0 158.0,163.0 C153.5,164.0 148.3,168.8 144.0,171.0 C139.7,173.2 134.7,176.5 132.0,176.0 C129.3,175.5 128.7,171.3 128.0,168.0 C127.3,164.7 126.7,159.0 128.0,156.0Z" fill="#b4b4b4" fill-opacity="0.95" filter="url(#b1)"/>
<path d="M150.0,150.0 C151.0,148.2 159.7,147.7 164.0,149.0 C168.3,150.3 175.0,155.8 176.0,158.0 C177.0,160.2 173.0,161.7 170.0,162.0 C167.0,162.3 161.3,162.0 158.0,160.0 C154.7,158.0 149.0,151.8 150.0,150.0Z" fill="#d2d2d2" fill-opacity="0.8" filter="url(#b2)"/>
<path d="M128.0,176.0 C129.0,171.7 131.7,174.0 134.0,174.0 C136.3,174.0 140.7,172.3 142.0,176.0 C143.3,179.7 143.0,191.0 142.0,196.0 C141.0,201.0 138.3,205.3 136.0,206.0 C133.7,206.7 129.3,205.0 128.0,200.0 C126.7,195.0 127.0,180.3 128.0,176.0Z" fill="#a8a8a8" fill-opacity="0.9" filter="url(#b2)"/>
<path d="M140.0,178.0 C141.2,175.7 143.0,174.3 146.0,172.0 C149.0,169.7 153.8,165.2 158.0,164.0 C162.2,162.8 167.0,163.7 171.0,165.0 C175.0,166.3 179.5,169.5 182.0,172.0 C184.5,174.5 186.2,177.2 186.0,180.0 C185.8,182.8 184.0,189.2 181.0,189.0 C178.0,188.8 172.2,180.8 168.0,179.0 C163.8,177.2 160.2,176.3 156.0,178.0 C151.8,179.7 145.8,187.7 143.0,189.0 C140.2,190.3 139.5,187.8 139.0,186.0 C138.5,184.2 138.8,180.3 140.0,178.0Z" fill="#262626" fill-opacity="0.97" filter="url(#b1)"/>
<path d="M143.0,189.0 C143.9,186.1 147.7,183.8 150.0,182.0 C152.3,180.2 153.5,178.5 156.6,178.0 C159.7,177.5 164.5,177.2 168.6,179.0 C172.7,180.8 178.6,186.0 181.0,189.0 C183.4,192.0 183.1,194.5 183.0,197.0 C182.9,199.5 183.3,204.3 180.6,204.0 C177.9,203.7 171.3,196.7 167.0,195.0 C162.7,193.3 158.7,193.3 155.0,194.0 C151.3,194.7 146.6,200.1 144.6,199.3 C142.6,198.5 142.1,191.9 143.0,189.0Z" fill="#d0d0d0" fill-opacity="0.97" filter="url(#b1)"/>
<path d="M144.6,199.3 C147.1,197.0 151.3,194.7 155.0,194.0 C158.7,193.3 162.7,193.3 167.0,195.0 C171.3,196.7 177.8,201.8 180.6,204.0 C183.4,206.2 184.8,206.4 184.0,208.0 C183.2,209.6 180.3,212.1 176.0,213.5 C171.7,214.9 163.2,216.2 158.0,216.5 C152.8,216.8 148.0,216.4 145.0,215.0 C142.0,213.6 140.1,210.6 140.0,208.0 C139.9,205.4 142.1,201.6 144.6,199.3Z" fill="#2c2c2c" fill-opacity="0.97" filter="url(#b1)"/>
<path d="M138.0,214.0 C140.3,212.5 151.7,217.0 158.0,217.0 C164.3,217.0 171.7,213.5 176.0,214.0 C180.3,214.5 183.7,216.8 184.0,220.0 C184.3,223.2 182.0,230.7 178.0,233.0 C174.0,235.3 165.7,235.2 160.0,234.0 C154.3,232.8 147.7,229.3 144.0,226.0 C140.3,222.7 135.7,215.5 138.0,214.0Z" fill="#c2c2c2" fill-opacity="0.92" filter="url(#b2)"/>
<path d="M129.0,204.0 C129.3,202.3 135.8,204.0 138.0,206.0 C140.2,208.0 142.3,214.3 142.0,216.0 C141.7,217.7 138.2,218.0 136.0,216.0 C133.8,214.0 128.7,205.7 129.0,204.0Z" fill="#8a8a8a" fill-opacity="0.7" filter="url(#b2)"/>
<path d="M164.4,128.3 C166.8,128.9 170.8,131.2 173.2,133.3 C175.6,135.4 177.0,138.4 178.7,141.0 C180.4,143.6 182.0,145.8 183.2,149.0 C184.3,152.2 184.9,156.4 185.6,160.0 C186.3,163.6 186.4,167.2 187.4,170.5 C188.4,173.8 190.6,177.1 191.5,180.0 C192.4,182.9 192.8,185.0 192.9,188.0 C193.1,191.0 192.9,194.9 192.4,197.9 C191.9,200.9 191.0,202.8 190.1,206.0 C189.2,209.2 188.3,213.1 186.8,216.9 C185.3,220.7 184.0,226.1 181.3,229.0 C178.6,231.9 174.0,233.7 170.4,234.2 C166.8,234.7 163.5,233.2 160.0,232.0 C156.5,230.8 152.7,228.8 149.6,227.0 C146.5,225.2 143.7,223.2 141.5,221.5 C139.3,219.8 138.3,219.5 136.4,216.9 C134.5,214.3 131.5,209.2 129.9,206.0 C128.3,202.8 127.1,200.9 126.6,197.9 C126.1,194.9 126.8,191.3 126.9,188.0 C127.1,184.7 127.1,180.9 127.5,178.0 C127.9,175.1 129.1,173.3 129.4,170.5 C129.7,167.7 128.9,163.8 129.3,161.0 C129.7,158.2 130.3,155.5 131.6,153.5 C132.9,151.5 134.9,149.9 137.0,149.0 C139.1,148.1 142.1,149.5 144.0,148.2 C145.9,146.9 146.7,143.8 148.3,141.4 C149.9,139.0 151.8,135.5 153.5,133.5 C155.2,131.5 156.7,130.4 158.5,129.5 C160.3,128.6 162.0,127.7 164.4,128.3Z" fill="none" stroke="#1c1c1c" stroke-opacity="0.85" stroke-width="3.5" filter="url(#b1)"/>
</g>
<path d="M164.4,128.3 C166.8,128.9 170.8,131.2 173.2,133.3 C175.6,135.4 177.0,138.4 178.7,141.0 C180.4,143.6 182.0,145.8 183.2,149.0 C184.3,152.2 184.9,156.4 185.6,160.0 C186.3,163.6 186.4,167.2 187.4,170.5 C188.4,173.8 190.6,177.1 191.5,180.0 C192.4,182.9 192.8,185.0 192.9,188.0 C193.1,191.0 192.9,194.9 192.4,197.9 C191.9,200.9 191.0,202.8 190.1,206.0 C189.2,209.2 188.3,213.1 186.8,216.9 C185.3,220.7 184.0,226.1 181.3,229.0 C178.6,231.9 174.0,233.7 170.4,234.2 C166.8,234.7 163.5,233.2 160.0,232.0 C156.5,230.8 152.7,228.8 149.6,227.0 C146.5,225.2 143.7,223.2 141.5,221.5 C139.3,219.8 138.3,219.5 136.4,216.9 C134.5,214.3 131.5,209.2 129.9,206.0 C128.3,202.8 127.1,200.9 126.6,197.9 C126.1,194.9 126.8,191.3 126.9,188.0 C127.1,184.7 127.1,180.9 127.5,178.0 C127.9,175.1 129.1,173.3 129.4,170.5 C129.7,167.7 128.9,163.8 129.3,161.0 C129.7,158.2 130.3,155.5 131.6,153.5 C132.9,151.5 134.9,149.9 137.0,149.0 C139.1,148.1 142.1,149.5 144.0,148.2 C145.9,146.9 146.7,143.8 148.3,141.4 C149.9,139.0 151.8,135.5 153.5,133.5 C155.2,131.5 156.7,130.4 158.5,129.5 C160.3,128.6 162.0,127.7 164.4,128.3Z" fill="none" stroke="#2a2a2a" stroke-width="0.6" stroke-opacity="0.7"/>
<polyline points="157.3,149.1 136.5,156.8 136.5,190.7 157.2,220.7" fill="none" stroke="#f4f4f4" stroke-width="1.3" stroke-linejoin="round"/>
<polyline points="173.7,161.1 184.1,196.5 177.5,224.4" fill="none" stroke="#f4f4f4" stroke-width="1.3" stroke-linejoin="round"/>
<circle cx="157.3" cy="149.1" r="1.5" fill="#111"/>
<circle cx="136.5" cy="156.8" r="1.3" fill="#111"/>
<circle cx="173.7" cy="161.1" r="1.5" fill="#111"/>
<circle cx="136.5" cy="190.7" r="0.9" fill="#111"/>
<circle cx="184.1" cy="196.5" r="1.6" fill="#111"/>
<circle cx="157.2" cy="220.7" r="1.5" fill="#111"/>
<circle cx="177.5" cy="224.4" r="1.6" fill="#111"/>
<text x="143.6" y="146.5" font-size="9.6" text-anchor="middle" fill="#3a3a3a" stroke="#ececec" stroke-width="1.5" paint-order="stroke" stroke-linejoin="round">1</text>
<text x="130" y="180.5" font-size="9.6" text-anchor="middle" fill="#3a3a3a" stroke="#ececec" stroke-width="1.5" paint-order="stroke" stroke-linejoin="round">2</text>
<text x="140.8" y="213.8" font-size="9.6" text-anchor="middle" fill="#3a3a3a" stroke="#ececec" stroke-width="1.5" paint-order="stroke" stroke-linejoin="round">3</text>
<text x="184.1" y="180.5" font-size="9.6" text-anchor="middle" fill="#3a3a3a" stroke="#ececec" stroke-width="1.5" paint-order="stroke" stroke-linejoin="round">4</text>
<text x="186.8" y="213.2" font-size="9.6" text-anchor="middle" fill="#3a3a3a" stroke="#ececec" stroke-width="1.5" paint-order="stroke" stroke-linejoin="round">5</text>
<g fill="#111" stroke="none">
<line x1="116.9" y1="116" x2="116.9" y2="136" stroke="#111" stroke-width="1.9"/>
<line x1="109.5" y1="125.7" x2="124.5" y2="125.7" stroke="#111" stroke-width="1.9"/>
<polygon points="116.9,113.3 114.5,117.8 119.3,117.8"/>
<polygon points="116.9,138.7 114.5,134.2 119.3,134.2"/>
<polygon points="106.8,125.7 111.3,123.3 111.3,128.1"/>
<polygon points="127.1,125.7 122.6,123.3 122.6,128.1"/>
</g>
<text x="119.4" y="112.7" font-size="7.2" font-weight="bold" text-anchor="middle" fill="#111" stroke="#111" stroke-width="0.15" transform="translate(119.4 112.7) scale(1.07 1) translate(-119.4 -112.7)">mesial</text>
<text x="94.1" y="127.8" font-size="7.2" font-weight="bold" text-anchor="middle" fill="#111" stroke="#111" stroke-width="0.15" transform="translate(94.1 127.8) scale(1.07 1) translate(-94.1 -127.8)">lingual</text>
<text x="140.0" y="127.8" font-size="7.2" font-weight="bold" text-anchor="middle" fill="#111" stroke="#111" stroke-width="0.15" transform="translate(140.0 127.8) scale(1.07 1) translate(-140.0 -127.8)">buccal</text>
<text x="117.5" y="142.5" font-size="7.2" font-weight="bold" text-anchor="middle" fill="#111" stroke="#111" stroke-width="0.15" transform="translate(117.5 142.5) scale(1.07 1) translate(-117.5 -142.5)">distal</text>
<text x="242.3" y="18.8" font-size="21.5" text-anchor="start" fill="#000" font-weight="normal" >b</text>
<text x="309.0" y="13.1" font-size="15.1" text-anchor="start" fill="#000" font-weight="normal" >Mandible</text>
<text transform="translate(232.2 141.4) rotate(-90)" font-size="13.8" text-anchor="middle" fill="#111">Distance between cusps</text>
<text transform="translate(244.6 140.8) rotate(-90)" font-size="10.7" text-anchor="middle" fill="#111">(ratio to mesiodistal diameter)</text>
<line x1="276.5" y1="220.7" x2="425" y2="220.7" stroke="#b8b8b8" stroke-width="1"/>
<line x1="276.5" y1="189.5" x2="425" y2="189.5" stroke="#b8b8b8" stroke-width="1"/>
<line x1="276.5" y1="158.29999999999998" x2="425" y2="158.29999999999998" stroke="#b8b8b8" stroke-width="1"/>
<line x1="276.5" y1="127.1" x2="425" y2="127.1" stroke="#b8b8b8" stroke-width="1"/>
<line x1="276.5" y1="95.9" x2="425" y2="95.9" stroke="#b8b8b8" stroke-width="1"/>
<line x1="276.5" y1="64.70000000000002" x2="425" y2="64.70000000000002" stroke="#b8b8b8" stroke-width="1"/>
<line x1="276.5" y1="33.49999999999997" x2="425" y2="33.49999999999997" stroke="#b8b8b8" stroke-width="1"/>
<rect x="288.00" y="112.70" width="9.10" height="108.00" fill="#fff" stroke="#707070" stroke-width="1"/>
<rect x="297.60" y="92.10" width="10.10" height="128.60" fill="#000"/>
<rect x="324.00" y="96.80" width="9.10" height="123.90" fill="#fff" stroke="#707070" stroke-width="1"/>
<rect x="333.60" y="103.80" width="10.40" height="116.90" fill="#000"/>
<rect x="358.60" y="167.80" width="9.00" height="52.90" fill="#fff" stroke="#707070" stroke-width="1"/>
<rect x="368.10" y="107.00" width="10.70" height="113.70" fill="#000"/>
<rect x="395.00" y="87.90" width="9.20" height="132.80" fill="#fff" stroke="#707070" stroke-width="1"/>
<rect x="404.70" y="100.30" width="10.10" height="120.40" fill="#000"/>
<line x1="292.55" y1="104.5" x2="292.55" y2="112.2" stroke="#505050" stroke-width="1.1"/>
<line x1="290.75" y1="105.0" x2="294.35" y2="105.0" stroke="#505050" stroke-width="1.2"/>
<line x1="302.65" y1="85.3" x2="302.65" y2="92.1" stroke="#505050" stroke-width="1.1"/>
<line x1="300.84999999999997" y1="85.8" x2="304.45" y2="85.8" stroke="#505050" stroke-width="1.2"/>
<line x1="328.55" y1="89.4" x2="328.55" y2="96.3" stroke="#505050" stroke-width="1.1"/>
<line x1="326.75" y1="89.9" x2="330.35" y2="89.9" stroke="#505050" stroke-width="1.2"/>
<line x1="338.8" y1="98.6" x2="338.8" y2="103.8" stroke="#505050" stroke-width="1.1"/>
<line x1="337.0" y1="99.1" x2="340.6" y2="99.1" stroke="#505050" stroke-width="1.2"/>
<line x1="363.1" y1="156.8" x2="363.1" y2="167.3" stroke="#505050" stroke-width="1.1"/>
<line x1="361.3" y1="157.3" x2="364.90000000000003" y2="157.3" stroke="#505050" stroke-width="1.2"/>
<line x1="373.45000000000005" y1="95.3" x2="373.45000000000005" y2="107.0" stroke="#505050" stroke-width="1.1"/>
<line x1="371.65000000000003" y1="95.8" x2="375.25000000000006" y2="95.8" stroke="#505050" stroke-width="1.2"/>
<line x1="399.6" y1="78.5" x2="399.6" y2="87.4" stroke="#505050" stroke-width="1.1"/>
<line x1="397.8" y1="79.0" x2="401.40000000000003" y2="79.0" stroke="#505050" stroke-width="1.2"/>
<line x1="409.75" y1="96.4" x2="409.75" y2="100.3" stroke="#505050" stroke-width="1.1"/>
<line x1="407.95" y1="96.9" x2="411.55" y2="96.9" stroke="#505050" stroke-width="1.2"/>
<path d="M292.6,97.4 L292.6,63.3 L302.6,63.3 L302.6,77.6" fill="none" stroke="#404040" stroke-width="1.1"/>
<circle cx="298.4" cy="58.6" r="1.3" fill="#1a1a1a"/>
<path d="M363.4,148.5 L363.4,78.1 L373.5,78.1 L373.5,89.0" fill="none" stroke="#404040" stroke-width="1.1"/>
<circle cx="368.9" cy="72.8" r="1.3" fill="#1a1a1a"/>
<line x1="279.7" y1="33.5" x2="279.7" y2="220.7" stroke="#a8a8a8" stroke-width="1"/>
<line x1="315.7" y1="220.7" x2="315.7" y2="223.7" stroke="#a8a8a8" stroke-width="1"/>
<line x1="351.4" y1="220.7" x2="351.4" y2="223.7" stroke="#a8a8a8" stroke-width="1"/>
<line x1="386.6" y1="220.7" x2="386.6" y2="223.7" stroke="#a8a8a8" stroke-width="1"/>
<text transform="translate(272.3 223.80) scale(0.88 1)" font-size="8.6" text-anchor="end" fill="#111" stroke="#111" stroke-width="0.25">0.1</text>
<text transform="translate(272.3 192.60) scale(0.88 1)" font-size="8.6" text-anchor="end" fill="#111" stroke="#111" stroke-width="0.25">0.15</text>
<text transform="translate(272.3 161.40) scale(0.88 1)" font-size="8.6" text-anchor="end" fill="#111" stroke="#111" stroke-width="0.25">0.2</text>
<text transform="translate(272.3 130.20) scale(0.88 1)" font-size="8.6" text-anchor="end" fill="#111" stroke="#111" stroke-width="0.25">0.25</text>
<text transform="translate(272.3 99.00) scale(0.88 1)" font-size="8.6" text-anchor="end" fill="#111" stroke="#111" stroke-width="0.25">0.3</text>
<text transform="translate(272.3 67.80) scale(0.88 1)" font-size="8.6" text-anchor="end" fill="#111" stroke="#111" stroke-width="0.25">0.35</text>
<text transform="translate(272.3 36.60) scale(0.88 1)" font-size="8.6" text-anchor="end" fill="#111" stroke="#111" stroke-width="0.25">0.4</text>
<text x="297.4" y="234.4" font-size="8.8" text-anchor="middle" fill="#111" font-weight="normal" >1</text>
<text x="336.0" y="234.4" font-size="8.8" text-anchor="middle" fill="#111" font-weight="normal" >2</text>
<text x="369.8" y="234.4" font-size="8.8" text-anchor="middle" fill="#111" font-weight="normal" >3</text>
<text x="405.4" y="234.4" font-size="8.8" text-anchor="middle" fill="#111" font-weight="normal" >4</text>
<text x="431.0" y="75.9" font-size="10.5" text-anchor="start" fill="#111" font-weight="normal" >Mouse</text>
<text x="431.0" y="89.7" font-size="10.5" text-anchor="start" fill="#111" font-weight="normal" >Rat</text>
<rect x="467.8" y="69.3" width="6.5" height="6.2" fill="#fff" stroke="#777" stroke-width="1"/>
<rect x="467.3" y="83" width="7.4" height="6.8" fill="#000"/>
<text x="470.8" y="18.4" font-size="21.5" text-anchor="start" fill="#000" font-weight="normal" >c</text>
<text x="565.3" y="13.1" font-size="15.1" text-anchor="start" fill="#000" font-weight="normal" >Maxilla</text>
<line x1="500.6" y1="220.7" x2="681.5" y2="220.7" stroke="#b8b8b8" stroke-width="1"/>
<line x1="500.6" y1="189.5" x2="681.5" y2="189.5" stroke="#b8b8b8" stroke-width="1"/>
<line x1="500.6" y1="158.29999999999998" x2="681.5" y2="158.29999999999998" stroke="#b8b8b8" stroke-width="1"/>
<line x1="500.6" y1="127.1" x2="681.5" y2="127.1" stroke="#b8b8b8" stroke-width="1"/>
<line x1="500.6" y1="95.9" x2="681.5" y2="95.9" stroke="#b8b8b8" stroke-width="1"/>
<line x1="500.6" y1="64.70000000000002" x2="681.5" y2="64.70000000000002" stroke="#b8b8b8" stroke-width="1"/>
<line x1="500.6" y1="33.49999999999997" x2="681.5" y2="33.49999999999997" stroke="#b8b8b8" stroke-width="1"/>
<rect x="511.60" y="130.90" width="9.80" height="89.80" fill="#fff" stroke="#707070" stroke-width="1"/>
<rect x="521.90" y="179.10" width="10.10" height="41.60" fill="#000"/>
<rect x="548.10" y="131.40" width="9.30" height="89.30" fill="#fff" stroke="#707070" stroke-width="1"/>
<rect x="557.90" y="98.10" width="10.20" height="122.60" fill="#000"/>
<rect x="584.30" y="129.80" width="9.50" height="90.90" fill="#fff" stroke="#707070" stroke-width="1"/>
<rect x="594.30" y="108.50" width="10.40" height="112.20" fill="#000"/>
<rect x="618.70" y="120.80" width="10.00" height="99.90" fill="#fff" stroke="#707070" stroke-width="1"/>
<rect x="629.20" y="81.40" width="9.90" height="139.30" fill="#000"/>
<rect x="654.80" y="114.00" width="9.50" height="106.70" fill="#fff" stroke="#707070" stroke-width="1"/>
<rect x="664.80" y="134.20" width="10.60" height="86.50" fill="#000"/>
<line x1="516.5" y1="116.4" x2="516.5" y2="130.4" stroke="#505050" stroke-width="1.1"/>
<line x1="514.7" y1="116.9" x2="518.3" y2="116.9" stroke="#505050" stroke-width="1.2"/>
<line x1="526.95" y1="175.4" x2="526.95" y2="179.1" stroke="#505050" stroke-width="1.1"/>
<line x1="525.1500000000001" y1="175.9" x2="528.75" y2="175.9" stroke="#505050" stroke-width="1.2"/>
<line x1="552.75" y1="120.3" x2="552.75" y2="130.9" stroke="#505050" stroke-width="1.1"/>
<line x1="550.95" y1="120.8" x2="554.55" y2="120.8" stroke="#505050" stroke-width="1.2"/>
<line x1="563.0" y1="94.6" x2="563.0" y2="98.1" stroke="#505050" stroke-width="1.1"/>
<line x1="561.2" y1="95.1" x2="564.8" y2="95.1" stroke="#505050" stroke-width="1.2"/>
<line x1="589.05" y1="119.4" x2="589.05" y2="129.3" stroke="#505050" stroke-width="1.1"/>
<line x1="587.25" y1="119.9" x2="590.8499999999999" y2="119.9" stroke="#505050" stroke-width="1.2"/>
<line x1="599.5" y1="94.3" x2="599.5" y2="108.5" stroke="#505050" stroke-width="1.1"/>
<line x1="597.7" y1="94.8" x2="601.3" y2="94.8" stroke="#505050" stroke-width="1.2"/>
<line x1="623.7" y1="102.2" x2="623.7" y2="120.3" stroke="#505050" stroke-width="1.1"/>
<line x1="621.9000000000001" y1="102.7" x2="625.5" y2="102.7" stroke="#505050" stroke-width="1.2"/>
<line x1="634.1500000000001" y1="74.4" x2="634.1500000000001" y2="81.4" stroke="#505050" stroke-width="1.1"/>
<line x1="632.3500000000001" y1="74.9" x2="635.95" y2="74.9" stroke="#505050" stroke-width="1.2"/>
<line x1="659.55" y1="99.3" x2="659.55" y2="113.5" stroke="#505050" stroke-width="1.1"/>
<line x1="657.75" y1="99.8" x2="661.3499999999999" y2="99.8" stroke="#505050" stroke-width="1.2"/>
<line x1="670.0999999999999" y1="122.4" x2="670.0999999999999" y2="134.2" stroke="#505050" stroke-width="1.1"/>
<line x1="668.3" y1="122.9" x2="671.8999999999999" y2="122.9" stroke="#505050" stroke-width="1.2"/>
<path d="M516.6,108.6 L516.6,97.8 L526.6,97.8 L526.6,168.2" fill="none" stroke="#404040" stroke-width="1.1"/>
<circle cx="520.9" cy="92.5" r="1.3" fill="#1a1a1a"/>
<path d="M552.8,110.6 L552.8,67.4 L563.0,67.4 L563.0,84.7" fill="none" stroke="#404040" stroke-width="1.1"/>
<circle cx="557.6" cy="61.8" r="1.3" fill="#1a1a1a"/>
<path d="M623.7,93.4 L623.7,53.6 L634.2,53.6 L634.2,66.0" fill="none" stroke="#404040" stroke-width="1.1"/>
<circle cx="628.6" cy="48.2" r="1.3" fill="#1a1a1a"/>
<line x1="503.4" y1="33.5" x2="503.4" y2="220.7" stroke="#a8a8a8" stroke-width="1"/>
<line x1="539.7" y1="220.7" x2="539.7" y2="223.7" stroke="#a8a8a8" stroke-width="1"/>
<line x1="576.4" y1="220.7" x2="576.4" y2="223.7" stroke="#a8a8a8" stroke-width="1"/>
<line x1="612.1" y1="220.7" x2="612.1" y2="223.7" stroke="#a8a8a8" stroke-width="1"/>
<line x1="646.9" y1="220.7" x2="646.9" y2="223.7" stroke="#a8a8a8" stroke-width="1"/>
<text transform="translate(496.6 223.80) scale(0.88 1)" font-size="8.6" text-anchor="end" fill="#111" stroke="#111" stroke-width="0.25">0.1</text>
<text transform="translate(496.6 192.60) scale(0.88 1)" font-size="8.6" text-anchor="end" fill="#111" stroke="#111" stroke-width="0.25">0.15</text>
<text transform="translate(496.6 161.40) scale(0.88 1)" font-size="8.6" text-anchor="end" fill="#111" stroke="#111" stroke-width="0.25">0.2</text>
<text transform="translate(496.6 130.20) scale(0.88 1)" font-size="8.6" text-anchor="end" fill="#111" stroke="#111" stroke-width="0.25">0.25</text>
<text transform="translate(496.6 99.00) scale(0.88 1)" font-size="8.6" text-anchor="end" fill="#111" stroke="#111" stroke-width="0.25">0.3</text>
<text transform="translate(496.6 67.80) scale(0.88 1)" font-size="8.6" text-anchor="end" fill="#111" stroke="#111" stroke-width="0.25">0.35</text>
<text transform="translate(496.6 36.60) scale(0.88 1)" font-size="8.6" text-anchor="end" fill="#111" stroke="#111" stroke-width="0.25">0.4</text>
<text x="522.1" y="234.4" font-size="8.8" text-anchor="middle" fill="#111" font-weight="normal" >1</text>
<text x="558.2" y="234.4" font-size="8.8" text-anchor="middle" fill="#111" font-weight="normal" >2</text>
<text x="594.4" y="234.4" font-size="8.8" text-anchor="middle" fill="#111" font-weight="normal" >3</text>
<text x="630.6" y="234.4" font-size="8.8" text-anchor="middle" fill="#111" font-weight="normal" >4</text>
<text x="666.8" y="234.4" font-size="8.8" text-anchor="middle" fill="#111" font-weight="normal" >5</text>
<rect x="8.7" y="242.4" width="205" height="168.7" fill="none" stroke="#222" stroke-width="1.1"/>
<text x="13.0" y="263.6" font-size="21.5" text-anchor="start" fill="#000" font-weight="normal" >d</text>
<line x1="72.4" y1="264.4" x2="87.4" y2="264.4" stroke="#000" stroke-width="1.8"/>
<line x1="72.4" y1="275.0" x2="87.4" y2="275.0" stroke="#e2231a" stroke-width="1.8"/>
<text x="91.2" y="266.6" font-size="9.2" text-anchor="start" fill="#111" font-weight="normal" >Mouse axial outline</text>
<text x="91.2" y="277.6" font-size="9.2" text-anchor="start" fill="#e2231a" font-weight="normal" >Rat axial outline</text>
<path d="M64.8,286.6 C67.7,286.4 70.8,286.9 73.5,287.8 C76.2,288.7 78.3,290.2 80.7,292.1 C83.1,294.0 86.1,297.0 88.0,299.4 C89.9,301.8 91.3,304.2 92.3,306.6 C93.3,309.0 93.3,311.5 93.8,313.9 C94.3,316.3 94.7,318.5 95.2,321.1 C95.7,323.8 96.1,326.9 96.7,329.8 C97.3,332.7 98.2,335.8 98.8,338.5 C99.4,341.2 100.1,343.3 100.5,346.0 C100.9,348.7 100.9,351.1 101.0,354.5 C101.1,357.9 101.2,362.5 101.0,366.1 C100.8,369.7 100.3,373.1 99.6,376.2 C98.9,379.3 98.2,382.5 96.7,384.9 C95.2,387.3 93.1,389.3 90.9,390.7 C88.7,392.1 86.8,392.6 83.6,393.3 C80.4,394.0 75.6,394.5 72.0,394.8 C68.4,395.1 65.3,395.5 61.9,395.1 C58.5,394.7 54.6,393.6 51.7,392.2 C48.8,390.8 46.4,388.6 44.5,386.4 C42.6,384.2 41.2,381.5 40.1,379.1 C39.0,376.7 38.4,374.8 38.0,371.9 C37.6,369.0 37.7,364.6 38.0,361.7 C38.3,358.8 39.4,356.7 39.6,354.5 C39.8,352.3 39.2,351.1 39.0,348.7 C38.8,346.3 38.2,342.7 38.3,340.0 C38.3,337.3 38.6,335.1 39.3,332.7 C39.9,330.3 41.4,327.7 42.2,325.5 C43.0,323.3 43.7,322.1 44.3,319.7 C44.9,317.3 45.1,313.9 45.7,311.0 C46.3,308.1 47.0,305.0 47.8,302.3 C48.6,299.6 49.2,297.2 50.6,295.0 C52.0,292.8 53.9,290.6 56.3,289.2 C58.7,287.8 61.9,286.8 64.8,286.6Z" fill="none" stroke="#2a2a2a" stroke-width="1.1"/>
<path d="M64.8,286.4 C67.7,286.2 70.8,286.7 73.5,287.6 C76.2,288.5 78.3,290.0 80.7,291.9 C83.1,293.8 86.1,296.8 88.0,299.2 C89.9,301.6 91.2,304.2 92.1,306.6 C93.0,309.1 92.9,311.5 93.4,313.9 C93.9,316.3 94.5,318.5 95.0,321.1 C95.5,323.8 96.1,326.9 96.7,329.8 C97.3,332.7 98.1,335.8 98.8,338.5 C99.5,341.2 100.3,343.3 100.7,346.0 C101.1,348.7 101.2,351.1 101.3,354.5 C101.4,357.9 101.5,362.5 101.3,366.1 C101.1,369.7 100.6,373.0 99.9,376.2 C99.2,379.4 98.5,382.6 97.0,385.1 C95.5,387.6 93.3,389.6 91.1,391.0 C88.9,392.4 86.8,392.9 83.6,393.6 C80.4,394.3 75.6,394.8 72.0,395.1 C68.4,395.4 65.3,395.8 61.9,395.4 C58.5,395.0 54.5,394.0 51.5,392.5 C48.5,391.0 46.2,388.8 44.2,386.6 C42.2,384.4 40.9,381.6 39.8,379.1 C38.7,376.7 38.0,374.8 37.6,371.9 C37.2,369.0 37.4,364.6 37.6,361.7 C37.8,358.8 38.9,356.7 39.0,354.5 C39.1,352.3 38.6,351.1 38.4,348.7 C38.2,346.3 37.6,342.7 37.6,340.0 C37.6,337.3 37.9,335.1 38.5,332.7 C39.1,330.3 40.4,327.7 41.2,325.5 C42.0,323.3 42.8,322.1 43.4,319.7 C44.0,317.3 44.2,313.9 44.8,311.0 C45.4,308.1 46.2,305.0 47.1,302.3 C48.0,299.6 48.6,297.2 50.1,295.0 C51.6,292.8 53.5,290.4 56.0,289.0 C58.5,287.6 61.9,286.6 64.8,286.4Z" fill="none" stroke="#d42a30" stroke-width="1.15"/>
<path d="M157.0,287.5 C159.7,287.4 163.0,287.5 165.7,288.5 C168.4,289.5 170.8,291.8 173.0,293.6 C175.2,295.4 177.1,297.5 178.8,299.4 C180.5,301.3 181.8,303.3 183.1,305.2 C184.4,307.1 185.8,308.8 186.7,311.0 C187.5,313.2 188.1,315.8 188.2,318.2 C188.3,320.6 187.8,323.1 187.5,325.5 C187.2,327.9 186.7,330.3 186.7,332.7 C186.7,335.1 187.4,337.6 187.5,340.0 C187.6,342.4 187.5,344.1 187.3,347.0 C187.1,349.9 186.4,354.2 186.2,357.4 C186.0,360.6 186.3,363.5 186.0,366.1 C185.7,368.8 185.3,370.9 184.6,373.3 C183.9,375.7 182.9,378.4 181.7,380.6 C180.5,382.8 179.2,384.6 177.3,386.4 C175.4,388.2 172.5,389.9 170.1,391.4 C167.7,392.9 165.2,394.9 162.8,395.3 C160.4,395.7 157.7,394.4 155.5,393.6 C153.3,392.8 152.3,392.4 149.8,390.7 C147.3,389.0 143.2,385.9 140.4,383.5 C137.6,381.1 135.4,378.6 133.1,376.2 C130.8,373.8 128.3,371.4 126.6,369.0 C124.9,366.6 123.8,364.1 123.0,361.7 C122.2,359.3 121.7,356.9 121.5,354.5 C121.3,352.1 121.7,350.1 121.8,347.0 C121.9,343.9 121.8,338.7 122.2,335.6 C122.6,332.5 123.4,330.6 124.4,328.4 C125.4,326.2 126.7,324.3 128.0,322.6 C129.3,320.9 131.0,319.9 132.4,318.2 C133.8,316.5 135.5,314.3 136.7,312.4 C137.9,310.5 138.9,308.5 139.6,306.6 C140.3,304.7 140.4,302.7 141.1,300.8 C141.8,298.9 142.6,296.9 144.0,295.0 C145.4,293.1 147.6,290.4 149.8,289.2 C152.0,287.9 154.3,287.6 157.0,287.5Z" fill="none" stroke="#2a2a2a" stroke-width="1.1"/>
<path d="M159.9,287.8 C162.8,287.9 167.2,289.0 170.1,290.7 C173.0,292.4 175.6,295.5 177.3,297.9 C179.0,300.3 179.5,302.5 180.2,305.2 C180.9,307.9 181.4,311.4 181.7,313.9 C182.0,316.4 182.0,318.1 182.1,320.0 C182.2,321.9 182.2,323.4 182.4,325.5 C182.6,327.6 182.7,330.3 183.1,332.7 C183.5,335.1 184.0,338.1 184.6,340.0 C185.2,341.9 186.7,342.4 186.7,344.3 C186.7,346.2 185.2,349.2 184.6,351.6 C184.0,354.0 183.1,356.4 183.1,358.8 C183.1,361.2 184.2,363.4 184.6,366.1 C185.0,368.8 185.6,371.9 185.3,374.8 C185.1,377.7 184.2,381.0 183.1,383.5 C182.0,386.0 180.5,388.2 178.8,390.0 C177.1,391.8 175.1,393.2 173.0,394.3 C170.9,395.4 168.3,396.4 166.0,396.6 C163.7,396.8 161.2,396.3 159.0,395.6 C156.8,394.9 155.2,393.7 152.7,392.2 C150.2,390.7 146.9,388.8 144.0,386.4 C141.1,384.0 137.8,380.4 135.3,377.7 C132.8,375.0 130.7,372.8 128.8,370.4 C126.9,368.0 124.8,365.8 123.7,363.2 C122.6,360.6 122.2,358.4 122.2,354.5 C122.2,350.6 123.5,342.9 123.7,340.0 C124.0,337.1 123.8,338.8 123.7,337.1 C123.6,335.4 123.0,332.2 123.0,329.8 C123.0,327.4 123.1,324.9 123.7,322.6 C124.3,320.3 125.4,317.9 126.6,316.1 C127.8,314.3 129.1,312.8 130.9,311.7 C132.7,310.6 135.8,310.4 137.5,309.5 C139.2,308.6 140.0,308.1 141.1,306.6 C142.2,305.2 143.0,302.7 144.0,300.8 C145.0,298.9 145.5,296.8 146.9,295.0 C148.3,293.2 150.5,291.2 152.7,290.0 C154.9,288.8 157.0,287.7 159.9,287.8Z" fill="none" stroke="#d42a30" stroke-width="1" stroke-opacity="0.9"/>
<polygon points="48.8,316.8 57.5,315.5 57.5,321.2" fill="#e2231a"/>
<polygon points="89.4,322.6 80.7,320.7 80.7,326.3" fill="#e2231a"/>
<polygon points="127.3,340.5 136.1,338.0 136.1,343" fill="#e2231a"/>
<text x="49.6" y="352.7" font-size="12.1" text-anchor="start" fill="#111" font-weight="normal" stroke="#111" stroke-width="0.25">Mn M1</text>
<text x="142.4" y="352.6" font-size="12.1" text-anchor="start" fill="#111" font-weight="normal" stroke="#111" stroke-width="0.25">Mx M1</text>
<rect x="238.7" y="242.5" width="307.9" height="168.6" fill="none" stroke="#222" stroke-width="1.1"/>
<text x="241.8" y="263.6" font-size="21.5" text-anchor="start" fill="#000" font-weight="normal" >e</text>
<circle cx="351.1" cy="273.4" r="3.9" fill="#3fbcec"/>
<text x="359.0" y="276.2" font-size="9.2" text-anchor="start" fill="#111" font-weight="normal" >Concave area</text>
<polygon points="248.6,321 247.3,335 246.4,350 245.4,370 246.3,352 247.3,336" fill="#3fbcec"/>
<polygon points="304.3,322 306.5,334 307.6,346 307.2,334" fill="#3fbcec"/>
<path d="M273.9,287.0 C276.4,286.9 278.8,287.5 281.0,288.5 C283.2,289.5 285.2,291.2 287.2,293.0 C289.2,294.8 291.1,296.7 293.0,299.0 C294.9,301.3 297.1,304.3 298.7,306.6 C300.3,308.9 301.5,310.4 302.5,313.0 C303.5,315.6 303.9,318.8 304.5,322.0 C305.1,325.2 305.5,328.2 306.0,332.0 C306.5,335.8 307.2,340.5 307.6,345.0 C308.0,349.5 308.3,354.3 308.4,358.9 C308.5,363.4 308.9,367.8 308.0,372.3 C307.1,376.8 305.3,382.6 303.1,385.8 C300.9,389.0 298.0,390.1 295.0,391.5 C292.0,392.9 288.0,393.9 285.0,394.5 C282.0,395.1 280.4,395.4 276.9,395.1 C273.4,394.9 267.8,394.2 264.0,393.0 C260.2,391.8 256.7,390.0 254.0,388.0 C251.3,386.0 249.4,383.7 248.0,381.0 C246.6,378.3 246.2,375.5 245.8,372.0 C245.4,368.5 245.5,364.5 245.6,360.0 C245.7,355.5 246.0,350.0 246.3,345.0 C246.6,340.0 247.0,334.0 247.5,330.0 C248.0,326.0 248.7,324.1 249.5,321.0 C250.3,317.9 251.5,315.3 252.6,311.6 C253.7,307.9 254.9,302.2 256.2,299.0 C257.5,295.8 259.0,294.2 260.6,292.5 C262.2,290.8 263.8,289.9 266.0,289.0 C268.2,288.1 271.4,287.1 273.9,287.0Z" fill="none" stroke="#333" stroke-width="1"/>
<line x1="257.4" y1="293.5" x2="243.3" y2="344.3" stroke="#222" stroke-width="1.1"/>
<line x1="248.9" y1="318.9" x2="244.8" y2="378.2" stroke="#3a3a3a" stroke-width="1.0"/>
<line x1="301.2" y1="304.7" x2="310.3" y2="357.9" stroke="#222" stroke-width="1.1"/>
<polygon points="331.4,295.5 330.5,307 328.5,315 325.3,322 321.5,329 319.4,333.5" fill="#3fbcec"/>
<polygon points="318,338 319.2,343.1 321.8,350.3 319.2,357.6 318,360" fill="#3fbcec"/>
<polygon points="375.9,308.5 376,318 377.5,328 380,338 382.7,347 384.3,347 382.3,338 380.1,328 378,318" fill="#3fbcec"/>
<path d="M350.6,287.0 C354.0,286.8 355.1,286.8 357.5,288.0 C359.9,289.2 362.6,292.0 365.1,294.5 C367.6,297.0 370.7,300.6 372.3,303.2 C373.9,305.8 374.0,307.5 374.6,310.0 C375.2,312.5 375.5,315.0 376.0,318.0 C376.5,321.0 376.8,324.7 377.5,328.0 C378.2,331.3 379.1,334.8 380.0,338.0 C380.9,341.2 382.2,343.5 382.7,347.0 C383.2,350.5 383.2,354.6 383.1,358.8 C383.0,363.0 382.9,367.8 381.9,372.3 C380.8,376.8 379.5,382.4 376.8,385.8 C374.1,389.2 369.6,391.0 365.8,392.6 C362.0,394.2 357.7,395.1 354.0,395.5 C350.3,395.9 347.0,395.9 343.8,395.1 C340.6,394.4 337.5,392.6 335.0,391.0 C332.5,389.4 330.8,388.2 328.6,385.8 C326.5,383.4 323.7,380.4 322.1,376.9 C320.5,373.4 319.7,368.0 319.2,364.8 C318.7,361.6 318.8,360.0 319.2,357.6 C319.6,355.2 321.8,352.7 321.8,350.3 C321.8,347.9 319.6,345.8 319.2,343.1 C318.8,340.4 319.0,336.4 319.4,334.0 C319.8,331.6 320.5,331.0 321.5,329.0 C322.5,327.0 324.1,324.3 325.3,322.0 C326.5,319.7 327.6,317.5 328.5,315.0 C329.4,312.5 329.9,310.2 330.5,307.0 C331.1,303.8 330.7,299.0 331.8,296.0 C332.9,293.0 333.9,290.5 337.0,289.0 C340.1,287.5 347.2,287.2 350.6,287.0Z" fill="none" stroke="#d0444e" stroke-width="1.15"/>
<line x1="333" y1="289.8" x2="314.8" y2="347.9" stroke="#222" stroke-width="1.1"/>
<line x1="318" y1="327.3" x2="318" y2="380.6" stroke="#222" stroke-width="1.1"/>
<line x1="373.8" y1="298.8" x2="387" y2="359.6" stroke="#222" stroke-width="1.1"/>
<polygon points="414.9,299.1 414.6,302.1 413.8,307.2 412.3,312.3 409.7,317.3 406.2,321.4 402.1,323.9 399.1,326 397.4,327" fill="#3fbcec"/>
<polygon points="461.7,312 460,321.7 459.3,330 461.7,339" fill="#3fbcec"/>
<polygon points="461.7,340 459.1,347.8 459.5,356 461.7,362" fill="#3fbcec"/>
<path d="M429.9,287.2 C432.1,287.0 433.9,287.8 436.0,288.5 C438.1,289.2 439.5,289.9 442.2,291.6 C444.9,293.3 449.4,296.4 452.3,298.8 C455.2,301.2 458.1,303.9 459.6,306.1 C461.1,308.3 461.4,309.4 461.5,312.0 C461.6,314.6 460.4,318.7 460.0,321.7 C459.6,324.7 459.1,327.1 459.3,330.0 C459.6,332.9 461.5,336.0 461.5,339.0 C461.5,342.0 459.4,345.0 459.1,347.8 C458.8,350.6 459.1,353.6 459.5,356.0 C459.9,358.4 461.2,359.4 461.5,362.0 C461.8,364.6 462.1,368.3 461.5,371.7 C460.9,375.1 459.3,379.8 457.7,382.4 C456.1,385.0 454.0,386.1 452.0,387.5 C450.0,388.9 448.8,389.6 445.8,390.9 C442.8,392.2 437.7,395.4 434.0,395.1 C430.3,394.8 427.5,391.9 423.8,389.2 C420.1,386.5 415.9,382.7 412.0,379.0 C408.1,375.3 402.9,370.6 400.1,367.2 C397.3,363.8 395.9,362.5 395.1,358.8 C394.3,355.1 395.0,349.1 395.1,345.0 C395.2,340.9 395.2,336.9 395.6,334.0 C396.0,331.1 396.8,328.9 397.4,327.6 C398.0,326.3 398.3,326.6 399.1,326.0 C399.9,325.4 400.9,324.7 402.1,323.9 C403.3,323.1 404.9,322.5 406.2,321.4 C407.5,320.3 408.7,318.8 409.7,317.3 C410.7,315.8 411.6,314.0 412.3,312.3 C413.0,310.6 413.4,309.1 413.8,307.2 C414.2,305.3 414.0,303.1 414.6,301.0 C415.2,298.9 416.1,296.4 417.5,294.5 C418.9,292.6 420.9,290.7 423.0,289.5 C425.1,288.3 427.7,287.4 429.9,287.2Z" fill="none" stroke="#333" stroke-width="1"/>
<line x1="423" y1="286.3" x2="391.5" y2="336" stroke="#222" stroke-width="1.1"/>
<line x1="393.4" y1="327" x2="393.4" y2="363.8" stroke="#222" stroke-width="1.1"/>
<line x1="461.7" y1="306.5" x2="461.7" y2="387" stroke="#444" stroke-width="1.1"/>
<polygon points="495.5,294.2 494.4,300.2 490.4,305.3 486.3,308.4 481.2,311.4 477.2,314.4 473.1,318.5 470.6,321.5" fill="#3fbcec"/>
<polygon points="471.1,324.6 473.1,334.7 473.7,340.8 470.8,346.9" fill="#3fbcec"/>
<polygon points="530.6,305 531,316.7 532.3,330 536.3,343.3 538.3,350 537.1,343.3 534.8,330 532.6,316.7" fill="#3fbcec"/>
<path d="M508.5,287.0 C511.2,287.4 514.6,289.6 517.2,291.6 C519.9,293.6 522.5,296.4 524.4,298.8 C526.3,301.2 527.4,303.0 528.5,306.0 C529.6,309.0 530.4,312.7 531.0,316.7 C531.6,320.7 531.4,325.6 532.3,330.0 C533.2,334.4 535.2,339.5 536.3,343.3 C537.4,347.1 538.6,349.2 539.0,352.7 C539.4,356.2 539.3,360.2 538.5,364.5 C537.7,368.8 536.1,374.3 534.0,378.7 C531.9,383.1 529.3,387.9 525.9,390.9 C522.5,393.9 517.1,396.2 513.7,396.5 C510.3,396.8 508.4,394.3 505.6,392.9 C502.8,391.5 499.7,389.7 497.0,388.0 C494.3,386.3 492.6,385.6 489.3,382.7 C486.0,379.8 480.1,374.9 477.2,370.6 C474.3,366.3 473.1,360.9 472.1,357.0 C471.1,353.1 470.8,349.6 471.1,346.9 C471.4,344.2 473.4,342.8 473.7,340.8 C474.0,338.8 473.5,337.4 473.1,334.7 C472.7,332.0 471.4,326.8 471.1,324.6 C470.8,322.4 470.8,322.5 471.1,321.5 C471.4,320.5 472.1,319.7 473.1,318.5 C474.1,317.3 475.9,315.6 477.2,314.4 C478.5,313.2 479.7,312.4 481.2,311.4 C482.7,310.4 484.8,309.4 486.3,308.4 C487.8,307.4 489.0,306.7 490.4,305.3 C491.8,303.9 493.4,302.1 494.4,300.2 C495.4,298.3 495.3,296.0 496.4,294.2 C497.5,292.4 499.0,290.5 501.0,289.3 C503.0,288.1 505.8,286.6 508.5,287.0Z" fill="none" stroke="#d0444e" stroke-width="1.15"/>
<line x1="502.1" y1="287.1" x2="469.1" y2="322.6" stroke="#222" stroke-width="1.1"/>
<line x1="471.5" y1="315.5" x2="469.7" y2="360.1" stroke="#222" stroke-width="1.1"/>
<line x1="528.9" y1="295.3" x2="540.3" y2="362" stroke="#222" stroke-width="1.1"/>
<line x1="540.3" y1="351.3" x2="529.7" y2="392.7" stroke="#222" stroke-width="1.1"/>
<text x="277.9" y="337.8" font-size="12.1" text-anchor="middle" fill="#111" font-weight="normal" stroke="#111" stroke-width="0.25">Mouse</text>
<text x="351.1" y="337.8" font-size="12.1" text-anchor="middle" fill="#111" font-weight="normal" stroke="#111" stroke-width="0.25">Rat</text>
<text x="431.0" y="337.8" font-size="12.1" text-anchor="middle" fill="#111" font-weight="normal" stroke="#111" stroke-width="0.25">Mouse</text>
<text x="507.7" y="337.8" font-size="12.1" text-anchor="middle" fill="#111" font-weight="normal" stroke="#111" stroke-width="0.25">Rat</text>
<text x="277.3" y="352.6" font-size="12.1" text-anchor="middle" fill="#111" font-weight="normal" stroke="#111" stroke-width="0.25">Mn M1</text>
<text x="353.2" y="352.6" font-size="12.1" text-anchor="middle" fill="#111" font-weight="normal" stroke="#111" stroke-width="0.25">Mn M1</text>
<text x="431.6" y="352.6" font-size="12.1" text-anchor="middle" fill="#111" font-weight="normal" stroke="#111" stroke-width="0.25">Mx M1</text>
<text x="506.9" y="352.6" font-size="12.1" text-anchor="middle" fill="#111" font-weight="normal" stroke="#111" stroke-width="0.25">Mx M1</text>
<text x="555.8" y="263.5" font-size="21.5" text-anchor="start" fill="#000" font-weight="normal" >f</text>
<text transform="translate(578.6 326.4) rotate(-90)" font-size="9.3" text-anchor="middle" fill="#111">Concave area / total area (%)</text>
<line x1="595.5" y1="396.8" x2="677.5" y2="396.8" stroke="#b8b8b8" stroke-width="1"/>
<line x1="595.5" y1="375.1" x2="677.5" y2="375.1" stroke="#b8b8b8" stroke-width="1"/>
<line x1="595.5" y1="353.40000000000003" x2="677.5" y2="353.40000000000003" stroke="#b8b8b8" stroke-width="1"/>
<line x1="595.5" y1="331.70000000000005" x2="677.5" y2="331.70000000000005" stroke="#b8b8b8" stroke-width="1"/>
<line x1="595.5" y1="310.0" x2="677.5" y2="310.0" stroke="#b8b8b8" stroke-width="1"/>
<line x1="595.5" y1="288.3" x2="677.5" y2="288.3" stroke="#b8b8b8" stroke-width="1"/>
<line x1="595.5" y1="266.6" x2="677.5" y2="266.6" stroke="#b8b8b8" stroke-width="1"/>
<line x1="595.5" y1="244.9" x2="677.5" y2="244.9" stroke="#b8b8b8" stroke-width="1"/>
<rect x="608.00" y="371.60" width="8.80" height="25.20" fill="#fff" stroke="#707070" stroke-width="1"/>
<rect x="617.30" y="293.60" width="10.20" height="103.20" fill="#000"/>
<rect x="643.90" y="302.10" width="8.60" height="94.70" fill="#fff" stroke="#707070" stroke-width="1"/>
<rect x="653.00" y="271.60" width="9.70" height="125.20" fill="#000"/>
<line x1="612.4" y1="363.2" x2="612.4" y2="371.1" stroke="#505050" stroke-width="1.1"/>
<line x1="610.6" y1="363.7" x2="614.1999999999999" y2="363.7" stroke="#505050" stroke-width="1.2"/>
<line x1="622.4" y1="276.0" x2="622.4" y2="293.6" stroke="#505050" stroke-width="1.1"/>
<line x1="620.6" y1="276.5" x2="624.1999999999999" y2="276.5" stroke="#505050" stroke-width="1.2"/>
<line x1="648.2" y1="288.4" x2="648.2" y2="301.6" stroke="#505050" stroke-width="1.1"/>
<line x1="646.4000000000001" y1="288.9" x2="650.0" y2="288.9" stroke="#505050" stroke-width="1.2"/>
<line x1="657.85" y1="265.4" x2="657.85" y2="271.6" stroke="#505050" stroke-width="1.1"/>
<line x1="656.0500000000001" y1="265.9" x2="659.65" y2="265.9" stroke="#505050" stroke-width="1.2"/>
<path d="M612.4,355.2 L612.4,258.4 L622.4,258.4 L622.4,269.0" fill="none" stroke="#404040" stroke-width="1.1"/>
<circle cx="618.0" cy="253.2" r="1.3" fill="#1a1a1a"/>
<path d="M648.2,281.0 L648.2,258.4 L657.8,258.4 L657.8,260.4" fill="none" stroke="#404040" stroke-width="1.1"/>
<circle cx="652.4" cy="253.2" r="1.3" fill="#1a1a1a"/>
<line x1="598.0" y1="244.9" x2="598.0" y2="396.8" stroke="#a8a8a8" stroke-width="1"/>
<text transform="translate(594.3 399.90) scale(1.0 1)" font-size="8.6" text-anchor="end" fill="#111" stroke="#111" stroke-width="0.25">0.0</text>
<text transform="translate(594.3 378.20) scale(1.0 1)" font-size="8.6" text-anchor="end" fill="#111" stroke="#111" stroke-width="0.25">0.5</text>
<text transform="translate(594.3 356.50) scale(1.0 1)" font-size="8.6" text-anchor="end" fill="#111" stroke="#111" stroke-width="0.25">1.0</text>
<text transform="translate(594.3 334.80) scale(1.0 1)" font-size="8.6" text-anchor="end" fill="#111" stroke="#111" stroke-width="0.25">1.5</text>
<text transform="translate(594.3 313.10) scale(1.0 1)" font-size="8.6" text-anchor="end" fill="#111" stroke="#111" stroke-width="0.25">2.0</text>
<text transform="translate(594.3 291.40) scale(1.0 1)" font-size="8.6" text-anchor="end" fill="#111" stroke="#111" stroke-width="0.25">2.5</text>
<text transform="translate(594.3 269.70) scale(1.0 1)" font-size="8.6" text-anchor="end" fill="#111" stroke="#111" stroke-width="0.25">3.0</text>
<text transform="translate(594.3 248.00) scale(1.0 1)" font-size="8.6" text-anchor="end" fill="#111" stroke="#111" stroke-width="0.25">3.5</text>
<text x="619.3" y="409.8" font-size="12.2" text-anchor="middle" fill="#111" font-weight="normal" >Mn</text>
<text x="653.1" y="409.8" font-size="12.2" text-anchor="middle" fill="#111" font-weight="normal" >Mx</text>
</svg>
</body></html>
